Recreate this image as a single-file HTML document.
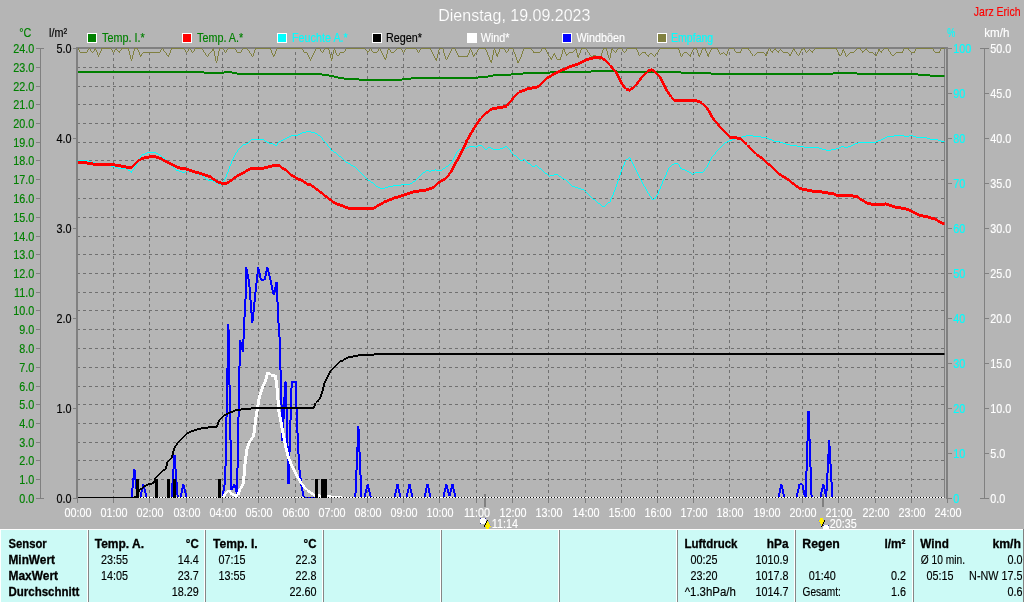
<!DOCTYPE html>
<html><head><meta charset="utf-8"><title>Dienstag, 19.09.2023</title>
<style>
html,body{margin:0;padding:0;background:#b5b5b5;}
body{width:1024px;height:602px;overflow:hidden;position:relative;font-family:"Liberation Sans",sans-serif;}
svg{position:absolute;left:0;top:0;display:block;will-change:transform;}
text{font-family:"Liberation Sans",sans-serif;font-size:12px;stroke-width:0.15px;}
.b{font-weight:bold;font-size:12.5px;stroke-width:0.3px;}
.ce{shape-rendering:crispEdges;}
</style></head><body>
<svg width="1024" height="602" viewBox="0 0 1024 602">
<rect x="0" y="0" width="1024" height="602" fill="#b5b5b5"/>
<text x="514.3" y="21" text-anchor="middle" fill="#fff" stroke="#b5b5b5" stroke-width="0.45" style="font-size:16px">Dienstag, 19.09.2023</text>
<text transform="translate(1020.5 16.0) scale(0.875 1)" fill="#ff0000" stroke="#ff0000" text-anchor="end">Jarz Erich</text>
<text transform="translate(19.3 37.0) scale(0.9 1)" fill="#008000" stroke="#008000">°C</text>
<text transform="translate(49.0 37.0) scale(0.9 1)" fill="#000" stroke="#000">l/m²</text>
<text transform="translate(947.3 37.0) scale(0.75 1)" fill="#00ffff" stroke="#00ffff">%</text>
<text transform="translate(984.3 37.0) scale(0.97 1)" fill="#fff" stroke="#fff">km/h</text>
<rect class="ce" x="87" y="33" width="10" height="10" fill="#fff"/>
<rect class="ce" x="88" y="34" width="8" height="8" fill="#008000"/>
<text transform="translate(102.0 42.0) scale(0.9 1)" fill="#008000" stroke="#008000">Temp. I.*</text>
<rect class="ce" x="182" y="33" width="10" height="10" fill="#fff"/>
<rect class="ce" x="183" y="34" width="8" height="8" fill="#ff0000"/>
<text transform="translate(197.0 42.0) scale(0.9 1)" fill="#008000" stroke="#008000">Temp. A.*</text>
<rect class="ce" x="277" y="33" width="10" height="10" fill="#fff"/>
<rect class="ce" x="278" y="34" width="8" height="8" fill="#00ffff"/>
<text transform="translate(292.0 42.0) scale(0.9 1)" fill="#00ffff" stroke="#00ffff">Feuchte A.*</text>
<rect class="ce" x="372" y="33" width="10" height="10" fill="#fff"/>
<rect class="ce" x="373" y="34" width="8" height="8" fill="#000000"/>
<text transform="translate(386.0 42.0) scale(0.9 1)" fill="#000000" stroke="#000000">Regen*</text>
<rect class="ce" x="467" y="33" width="10" height="10" fill="#fff"/>
<rect class="ce" x="468" y="34" width="8" height="8" fill="#ffffff"/>
<text transform="translate(480.7 42.0) scale(0.9 1)" fill="#ffffff" stroke="#ffffff">Wind*</text>
<rect class="ce" x="562" y="33" width="10" height="10" fill="#fff"/>
<rect class="ce" x="563" y="34" width="8" height="8" fill="#0000ff"/>
<text transform="translate(576.4 42.0) scale(0.9 1)" fill="#ffffff" stroke="#ffffff">Windböen</text>
<rect class="ce" x="657" y="33" width="10" height="10" fill="#fff"/>
<rect class="ce" x="658" y="34" width="8" height="8" fill="#808040"/>
<text transform="translate(671.0 42.0) scale(0.88 1)" fill="#00ffff" stroke="#00ffff">Empfang</text>
<g class="ce" stroke="#707070" stroke-width="1" stroke-dasharray="3 3" fill="none">
<path d="M77 479.5H946"/>
<path d="M77 460.5H946"/>
<path d="M77 442.5H946"/>
<path d="M77 423.5H946"/>
<path d="M77 404.5H946"/>
<path d="M77 386.5H946"/>
<path d="M77 367.5H946"/>
<path d="M77 348.5H946"/>
<path d="M77 329.5H946"/>
<path d="M77 310.5H946"/>
<path d="M77 292.5H946"/>
<path d="M77 273.5H946"/>
<path d="M77 254.5H946"/>
<path d="M77 236.5H946"/>
<path d="M77 217.5H946"/>
<path d="M77 198.5H946"/>
<path d="M77 179.5H946"/>
<path d="M77 160.5H946"/>
<path d="M77 142.5H946"/>
<path d="M77 123.5H946"/>
<path d="M77 104.5H946"/>
<path d="M77 86.5H946"/>
<path d="M77 67.5H946"/>
<path d="M113.5 52V498"/>
<path d="M149.5 52V498"/>
<path d="M186.5 52V498"/>
<path d="M222.5 52V498"/>
<path d="M258.5 52V498"/>
<path d="M295.5 52V498"/>
<path d="M331.5 52V498"/>
<path d="M367.5 52V498"/>
<path d="M403.5 52V498"/>
<path d="M439.5 52V498"/>
<path d="M476.5 52V498"/>
<path d="M512.5 52V498"/>
<path d="M548.5 52V498"/>
<path d="M585.5 52V498"/>
<path d="M621.5 52V498"/>
<path d="M657.5 52V498"/>
<path d="M693.5 52V498"/>
<path d="M729.5 52V498"/>
<path d="M766.5 52V498"/>
<path d="M802.5 52V498"/>
<path d="M838.5 52V498"/>
<path d="M875.5 52V498"/>
<path d="M911.5 52V498"/>
</g>
<g class="ce" fill="#808080">
<rect x="76" y="47" width="2" height="452"/>
<rect x="76" y="47" width="872" height="2"/>
<rect x="946" y="47" width="2" height="452"/>
<rect x="944" y="49" width="1" height="449"/>
<rect x="40" y="48" width="1" height="451"/>
<rect x="36" y="498" width="8" height="1"/>
<rect x="36" y="479" width="4" height="1"/>
<rect x="36" y="460" width="4" height="1"/>
<rect x="36" y="442" width="4" height="1"/>
<rect x="36" y="423" width="4" height="1"/>
<rect x="36" y="404" width="4" height="1"/>
<rect x="36" y="386" width="4" height="1"/>
<rect x="36" y="367" width="4" height="1"/>
<rect x="36" y="348" width="4" height="1"/>
<rect x="36" y="329" width="4" height="1"/>
<rect x="36" y="310" width="4" height="1"/>
<rect x="36" y="292" width="4" height="1"/>
<rect x="36" y="273" width="4" height="1"/>
<rect x="36" y="254" width="4" height="1"/>
<rect x="36" y="236" width="4" height="1"/>
<rect x="36" y="217" width="4" height="1"/>
<rect x="36" y="198" width="4" height="1"/>
<rect x="36" y="179" width="4" height="1"/>
<rect x="36" y="160" width="4" height="1"/>
<rect x="36" y="142" width="4" height="1"/>
<rect x="36" y="123" width="4" height="1"/>
<rect x="36" y="104" width="4" height="1"/>
<rect x="36" y="86" width="4" height="1"/>
<rect x="36" y="67" width="4" height="1"/>
<rect x="36" y="48" width="8" height="1"/>
<rect x="73" y="498" width="3" height="1"/>
<rect x="73" y="408" width="3" height="1"/>
<rect x="73" y="318" width="3" height="1"/>
<rect x="73" y="228" width="3" height="1"/>
<rect x="73" y="138" width="3" height="1"/>
<rect x="73" y="48" width="3" height="1"/>
<rect x="948" y="498" width="4" height="1"/>
<rect x="948" y="453" width="4" height="1"/>
<rect x="948" y="408" width="4" height="1"/>
<rect x="948" y="363" width="4" height="1"/>
<rect x="948" y="318" width="4" height="1"/>
<rect x="948" y="273" width="4" height="1"/>
<rect x="948" y="228" width="4" height="1"/>
<rect x="948" y="183" width="4" height="1"/>
<rect x="948" y="138" width="4" height="1"/>
<rect x="948" y="93" width="4" height="1"/>
<rect x="948" y="48" width="4" height="1"/>
<rect x="984" y="48" width="1" height="451"/>
<rect x="980" y="498" width="9" height="1"/>
<rect x="985" y="453" width="4" height="1"/>
<rect x="985" y="408" width="4" height="1"/>
<rect x="985" y="363" width="4" height="1"/>
<rect x="985" y="318" width="4" height="1"/>
<rect x="985" y="273" width="4" height="1"/>
<rect x="985" y="228" width="4" height="1"/>
<rect x="985" y="183" width="4" height="1"/>
<rect x="985" y="138" width="4" height="1"/>
<rect x="985" y="93" width="4" height="1"/>
<rect x="980" y="48" width="9" height="1"/>
<rect x="77" y="498" width="1" height="5"/>
<rect x="113" y="498" width="1" height="5"/>
<rect x="149" y="498" width="1" height="5"/>
<rect x="186" y="498" width="1" height="5"/>
<rect x="222" y="498" width="1" height="5"/>
<rect x="258" y="498" width="1" height="5"/>
<rect x="295" y="498" width="1" height="5"/>
<rect x="331" y="498" width="1" height="5"/>
<rect x="367" y="498" width="1" height="5"/>
<rect x="403" y="498" width="1" height="5"/>
<rect x="439" y="498" width="1" height="5"/>
<rect x="476" y="498" width="1" height="5"/>
<rect x="512" y="498" width="1" height="5"/>
<rect x="548" y="498" width="1" height="5"/>
<rect x="585" y="498" width="1" height="5"/>
<rect x="621" y="498" width="1" height="5"/>
<rect x="657" y="498" width="1" height="5"/>
<rect x="693" y="498" width="1" height="5"/>
<rect x="729" y="498" width="1" height="5"/>
<rect x="766" y="498" width="1" height="5"/>
<rect x="802" y="498" width="1" height="5"/>
<rect x="838" y="498" width="1" height="5"/>
<rect x="875" y="498" width="1" height="5"/>
<rect x="911" y="498" width="1" height="5"/>
<rect x="947" y="498" width="1" height="5"/>
<rect x="484" y="494" width="2" height="13"/>
<rect x="822" y="494" width="2" height="13"/>
</g>
<g fill="#008000" stroke="#008000" text-anchor="end">
<text transform="translate(34.3 503.0) scale(0.9 1)">0.0</text>
<text transform="translate(34.3 484.0) scale(0.9 1)">1.0</text>
<text transform="translate(34.3 465.0) scale(0.9 1)">2.0</text>
<text transform="translate(34.3 447.0) scale(0.9 1)">3.0</text>
<text transform="translate(34.3 428.0) scale(0.9 1)">4.0</text>
<text transform="translate(34.3 409.0) scale(0.9 1)">5.0</text>
<text transform="translate(34.3 391.0) scale(0.9 1)">6.0</text>
<text transform="translate(34.3 372.0) scale(0.9 1)">7.0</text>
<text transform="translate(34.3 353.0) scale(0.9 1)">8.0</text>
<text transform="translate(34.3 334.0) scale(0.9 1)">9.0</text>
<text transform="translate(34.3 315.0) scale(0.9 1)">10.0</text>
<text transform="translate(34.3 297.0) scale(0.9 1)">11.0</text>
<text transform="translate(34.3 278.0) scale(0.9 1)">12.0</text>
<text transform="translate(34.3 259.0) scale(0.9 1)">13.0</text>
<text transform="translate(34.3 241.0) scale(0.9 1)">14.0</text>
<text transform="translate(34.3 222.0) scale(0.9 1)">15.0</text>
<text transform="translate(34.3 203.0) scale(0.9 1)">16.0</text>
<text transform="translate(34.3 184.0) scale(0.9 1)">17.0</text>
<text transform="translate(34.3 165.0) scale(0.9 1)">18.0</text>
<text transform="translate(34.3 147.0) scale(0.9 1)">19.0</text>
<text transform="translate(34.3 128.0) scale(0.9 1)">20.0</text>
<text transform="translate(34.3 109.0) scale(0.9 1)">21.0</text>
<text transform="translate(34.3 91.0) scale(0.9 1)">22.0</text>
<text transform="translate(34.3 72.0) scale(0.9 1)">23.0</text>
<text transform="translate(34.3 53.0) scale(0.9 1)">24.0</text>
</g>
<g fill="#000" stroke="#000" text-anchor="end">
<text transform="translate(71.5 503.0) scale(0.9 1)">0.0</text>
<text transform="translate(71.5 413.0) scale(0.9 1)">1.0</text>
<text transform="translate(71.5 323.0) scale(0.9 1)">2.0</text>
<text transform="translate(71.5 233.0) scale(0.9 1)">3.0</text>
<text transform="translate(71.5 143.0) scale(0.9 1)">4.0</text>
<text transform="translate(71.5 53.0) scale(0.9 1)">5.0</text>
</g>
<g fill="#00ffff" stroke="#00ffff">
<text transform="translate(953.3 503.0) scale(0.9 1)">0</text>
<text transform="translate(953.3 458.0) scale(0.9 1)">10</text>
<text transform="translate(953.3 413.0) scale(0.9 1)">20</text>
<text transform="translate(953.3 368.0) scale(0.9 1)">30</text>
<text transform="translate(953.3 323.0) scale(0.9 1)">40</text>
<text transform="translate(953.3 278.0) scale(0.9 1)">50</text>
<text transform="translate(953.3 233.0) scale(0.9 1)">60</text>
<text transform="translate(953.3 188.0) scale(0.9 1)">70</text>
<text transform="translate(953.3 143.0) scale(0.9 1)">80</text>
<text transform="translate(953.3 98.0) scale(0.9 1)">90</text>
<text transform="translate(953.3 53.0) scale(0.9 1)">100</text>
</g>
<g fill="#fff" stroke="#fff">
<text transform="translate(990.3 503.0) scale(0.9 1)">0.0</text>
<text transform="translate(990.3 458.0) scale(0.9 1)">5.0</text>
<text transform="translate(990.3 413.0) scale(0.9 1)">10.0</text>
<text transform="translate(990.3 368.0) scale(0.9 1)">15.0</text>
<text transform="translate(990.3 323.0) scale(0.9 1)">20.0</text>
<text transform="translate(990.3 278.0) scale(0.9 1)">25.0</text>
<text transform="translate(990.3 233.0) scale(0.9 1)">30.0</text>
<text transform="translate(990.3 188.0) scale(0.9 1)">35.0</text>
<text transform="translate(990.3 143.0) scale(0.9 1)">40.0</text>
<text transform="translate(990.3 98.0) scale(0.9 1)">45.0</text>
<text transform="translate(990.3 53.0) scale(0.9 1)">50.0</text>
</g>
<g fill="#fff" stroke="#fff" text-anchor="middle">
<text transform="translate(78.0 517.0) scale(0.9 1)">00:00</text>
<text transform="translate(114.0 517.0) scale(0.9 1)">01:00</text>
<text transform="translate(150.0 517.0) scale(0.9 1)">02:00</text>
<text transform="translate(187.0 517.0) scale(0.9 1)">03:00</text>
<text transform="translate(223.0 517.0) scale(0.9 1)">04:00</text>
<text transform="translate(259.0 517.0) scale(0.9 1)">05:00</text>
<text transform="translate(296.0 517.0) scale(0.9 1)">06:00</text>
<text transform="translate(332.0 517.0) scale(0.9 1)">07:00</text>
<text transform="translate(368.0 517.0) scale(0.9 1)">08:00</text>
<text transform="translate(404.0 517.0) scale(0.9 1)">09:00</text>
<text transform="translate(440.0 517.0) scale(0.9 1)">10:00</text>
<text transform="translate(477.0 517.0) scale(0.9 1)">11:00</text>
<text transform="translate(513.0 517.0) scale(0.9 1)">12:00</text>
<text transform="translate(549.0 517.0) scale(0.9 1)">13:00</text>
<text transform="translate(586.0 517.0) scale(0.9 1)">14:00</text>
<text transform="translate(622.0 517.0) scale(0.9 1)">15:00</text>
<text transform="translate(658.0 517.0) scale(0.9 1)">16:00</text>
<text transform="translate(694.0 517.0) scale(0.9 1)">17:00</text>
<text transform="translate(730.0 517.0) scale(0.9 1)">18:00</text>
<text transform="translate(767.0 517.0) scale(0.9 1)">19:00</text>
<text transform="translate(803.0 517.0) scale(0.9 1)">20:00</text>
<text transform="translate(839.0 517.0) scale(0.9 1)">21:00</text>
<text transform="translate(876.0 517.0) scale(0.9 1)">22:00</text>
<text transform="translate(912.0 517.0) scale(0.9 1)">23:00</text>
<text transform="translate(948.0 517.0) scale(0.9 1)">24:00</text>
</g>
<text transform="translate(491.7 528.0) scale(0.9 1)" fill="#fff" stroke="#fff">11:14</text>
<text transform="translate(829.7 528.0) scale(0.9 1)" fill="#fff" stroke="#fff">20:35</text>
<defs><clipPath id="cp"><rect x="78" y="48" width="866.5" height="450"/></clipPath></defs>
<g clip-path="url(#cp)" class="ce" fill="none" stroke-linejoin="round">
<path d="M78 48.5h1M89 48.5h1M95 48.5h1M101 48.5h10M116 48.5h1M121 48.5h8M134 48.5h4M162 48.5h1M171 48.5h13M189 48.5h1M195 48.5h7M213 48.5h1M219 48.5h4M228 48.5h7M243 48.5h4M255 48.5h16M277 48.5h25M316 48.5h4M325 48.5h4M334 48.5h1M346 48.5h19M370 48.5h1M379 48.5h1M388 48.5h1M397 48.5h4M406 48.5h10M421 48.5h10M439 48.5h4M452 48.5h3M470 48.5h1M479 48.5h7M494 48.5h1M500 48.5h4M509 48.5h4M524 48.5h7M542 48.5h4M563 48.5h1M575 48.5h1M581 48.5h5M603 48.5h4M612 48.5h1M618 48.5h4M627 48.5h10M660 48.5h19M693 48.5h4M702 48.5h4M711 48.5h7M729 48.5h5M742 48.5h7M769 48.5h1M775 48.5h1M793 48.5h1M803 48.5h2M815 48.5h22M857 48.5h4M866 48.5h1M884 48.5h4M904 48.5h5M916 48.5h17M941 48.5h4M78 49.5h1M88 49.5h1M90 49.5h1M94 49.5h2M101 49.5h1M111 49.5h1M115 49.5h2M121 49.5h1M128 49.5h1M134 49.5h1M137 49.5h1M161 49.5h1M163 49.5h1M171 49.5h1M184 49.5h1M188 49.5h1M190 49.5h1M194 49.5h1M202 49.5h1M212 49.5h2M219 49.5h1M223 49.5h1M227 49.5h1M235 49.5h1M242 49.5h1M247 49.5h1M255 49.5h1M270 49.5h1M276 49.5h1M302 49.5h1M315 49.5h1M320 49.5h1M324 49.5h1M328 49.5h1M334 49.5h1M345 49.5h1M365 49.5h1M369 49.5h1M371 49.5h1M378 49.5h1M380 49.5h1M388 49.5h2M396 49.5h1M401 49.5h1M405 49.5h1M416 49.5h1M420 49.5h1M430 49.5h1M439 49.5h1M443 49.5h1M451 49.5h1M455 49.5h1M470 49.5h1M478 49.5h1M485 49.5h1M494 49.5h1M499 49.5h1M504 49.5h1M508 49.5h1M513 49.5h1M523 49.5h1M531 49.5h1M541 49.5h1M545 49.5h1M563 49.5h2M575 49.5h2M581 49.5h1M586 49.5h1M603 49.5h1M606 49.5h1M611 49.5h2M617 49.5h1M622 49.5h1M626 49.5h1M636 49.5h1M659 49.5h1M678 49.5h1M693 49.5h1M696 49.5h1M702 49.5h1M705 49.5h1M711 49.5h1M717 49.5h1M728 49.5h1M734 49.5h1M741 49.5h1M748 49.5h1M768 49.5h1M770 49.5h1M774 49.5h2M780 49.5h1M793 49.5h2M801 49.5h2M804 49.5h1M809 49.5h1M814 49.5h1M836 49.5h1M843 49.5h1M856 49.5h1M860 49.5h1M865 49.5h2M878 49.5h2M883 49.5h1M888 49.5h1M903 49.5h1M908 49.5h1M915 49.5h1M933 49.5h1M940 49.5h1M79 50.5h1M87 50.5h1M90 50.5h1M94 50.5h1M96 50.5h1M101 50.5h1M112 50.5h1M114 50.5h1M117 50.5h1M120 50.5h1M128 50.5h1M134 50.5h1M138 50.5h1M160 50.5h1M163 50.5h1M170 50.5h1M185 50.5h1M188 50.5h1M191 50.5h1M194 50.5h1M203 50.5h1M212 50.5h2M219 50.5h1M224 50.5h1M226 50.5h1M236 50.5h1M241 50.5h1M248 50.5h1M254 50.5h1M271 50.5h1M276 50.5h1M303 50.5h1M315 50.5h1M320 50.5h1M323 50.5h1M329 50.5h1M333 50.5h1M335 50.5h1M345 50.5h1M366 50.5h1M369 50.5h1M371 50.5h1M378 50.5h1M380 50.5h1M387 50.5h1M390 50.5h1M395 50.5h1M402 50.5h1M404 50.5h1M417 50.5h1M419 50.5h1M431 50.5h1M438 50.5h1M443 50.5h1M451 50.5h1M455 50.5h1M469 50.5h1M471 50.5h1M477 50.5h1M486 50.5h1M493 50.5h1M495 50.5h1M499 50.5h1M505 50.5h1M508 50.5h1M513 50.5h1M523 50.5h1M532 50.5h1M541 50.5h1M546 50.5h1M562 50.5h1M564 50.5h1M574 50.5h1M576 50.5h1M580 50.5h1M587 50.5h1M602 50.5h1M606 50.5h1M611 50.5h1M613 50.5h1M616 50.5h1M622 50.5h1M626 50.5h1M637 50.5h1M658 50.5h1M679 50.5h1M692 50.5h1M697 50.5h1M701 50.5h1M705 50.5h1M710 50.5h1M718 50.5h1M728 50.5h1M734 50.5h1M741 50.5h1M749 50.5h1M768 50.5h1M770 50.5h1M773 50.5h1M776 50.5h1M779 50.5h1M781 50.5h1M792 50.5h1M794 50.5h1M801 50.5h1M805 50.5h1M808 50.5h1M810 50.5h1M813 50.5h1M837 50.5h1M842 50.5h2M855 50.5h1M861 50.5h1M864 50.5h1M867 50.5h1M878 50.5h2M882 50.5h1M888 50.5h1M903 50.5h1M909 50.5h1M915 50.5h1M933 50.5h1M940 50.5h1M79 51.5h1M87 51.5h1M91 51.5h1M93 51.5h1M96 51.5h1M100 51.5h1M112 51.5h1M114 51.5h1M118 51.5h2M129 51.5h1M133 51.5h1M138 51.5h1M160 51.5h1M164 51.5h1M170 51.5h1M185 51.5h1M187 51.5h1M191 51.5h1M193 51.5h1M203 51.5h1M211 51.5h1M214 51.5h1M218 51.5h1M224 51.5h1M226 51.5h1M236 51.5h1M241 51.5h1M249 51.5h1M254 51.5h1M271 51.5h1M275 51.5h1M303 51.5h1M314 51.5h1M321 51.5h1M323 51.5h1M329 51.5h1M333 51.5h1M335 51.5h1M344 51.5h1M367 51.5h2M372 51.5h1M377 51.5h1M381 51.5h1M387 51.5h1M390 51.5h1M394 51.5h1M402 51.5h1M404 51.5h1M417 51.5h1M419 51.5h1M431 51.5h1M438 51.5h1M443 51.5h1M450 51.5h1M456 51.5h1M469 51.5h1M471 51.5h1M477 51.5h1M486 51.5h1M493 51.5h1M495 51.5h1M499 51.5h1M505 51.5h1M507 51.5h1M513 51.5h1M522 51.5h1M533 51.5h1M540 51.5h1M546 51.5h1M562 51.5h1M564 51.5h1M573 51.5h1M576 51.5h1M580 51.5h1M587 51.5h1M602 51.5h1M607 51.5h1M611 51.5h1M614 51.5h1M616 51.5h1M623 51.5h1M625 51.5h1M637 51.5h1M658 51.5h1M679 51.5h1M692 51.5h1M697 51.5h1M701 51.5h1M706 51.5h1M710 51.5h1M718 51.5h1M727 51.5h1M735 51.5h1M740 51.5h1M750 51.5h1M767 51.5h1M771 51.5h2M777 51.5h2M782 51.5h1M792 51.5h1M795 51.5h1M800 51.5h1M805 51.5h1M807 51.5h1M811 51.5h2M837 51.5h1M842 51.5h1M844 51.5h1M854 51.5h1M862 51.5h2M868 51.5h1M878 51.5h1M880 51.5h2M889 51.5h1M902 51.5h1M910 51.5h1M914 51.5h1M934 51.5h1M939 51.5h1M80 52.5h7M92 52.5h1M97 52.5h1M100 52.5h1M113 52.5h1M119 52.5h1M129 52.5h1M133 52.5h1M139 52.5h1M143 52.5h17M165 52.5h1M170 52.5h1M186 52.5h1M192 52.5h1M204 52.5h1M210 52.5h1M214 52.5h1M218 52.5h1M225 52.5h1M237 52.5h4M249 52.5h1M254 52.5h1M271 52.5h1M275 52.5h1M304 52.5h3M314 52.5h1M322 52.5h1M329 52.5h1M333 52.5h1M335 52.5h1M340 52.5h4M367 52.5h1M373 52.5h4M381 52.5h1M387 52.5h1M391 52.5h3M403 52.5h1M418 52.5h1M432 52.5h1M438 52.5h1M443 52.5h1M450 52.5h1M456 52.5h1M469 52.5h1M472 52.5h1M476 52.5h1M487 52.5h1M493 52.5h1M495 52.5h1M498 52.5h1M506 52.5h1M514 52.5h1M522 52.5h1M533 52.5h7M547 52.5h1M562 52.5h1M565 52.5h1M569 52.5h4M576 52.5h1M580 52.5h1M588 52.5h1M602 52.5h1M607 52.5h1M611 52.5h1M615 52.5h1M624 52.5h1M638 52.5h1M642 52.5h4M657 52.5h1M679 52.5h1M684 52.5h3M691 52.5h1M697 52.5h1M701 52.5h1M706 52.5h1M709 52.5h1M719 52.5h1M723 52.5h1M727 52.5h1M736 52.5h5M750 52.5h1M757 52.5h7M767 52.5h1M772 52.5h1M778 52.5h1M783 52.5h5M791 52.5h1M796 52.5h1M800 52.5h1M806 52.5h1M812 52.5h1M838 52.5h1M842 52.5h1M844 52.5h1M850 52.5h4M862 52.5h1M869 52.5h4M877 52.5h1M881 52.5h1M890 52.5h1M896 52.5h7M911 52.5h4M935 52.5h5M97 53.5h1M99 53.5h1M129 53.5h1M133 53.5h1M139 53.5h1M142 53.5h1M166 53.5h1M169 53.5h1M205 53.5h1M209 53.5h1M214 53.5h1M218 53.5h1M250 53.5h1M253 53.5h1M272 53.5h1M275 53.5h1M307 53.5h1M313 53.5h1M329 53.5h1M333 53.5h1M336 53.5h1M339 53.5h1M382 53.5h1M387 53.5h1M432 53.5h1M438 53.5h1M444 53.5h1M449 53.5h1M457 53.5h1M468 53.5h1M472 53.5h1M475 53.5h1M487 53.5h1M493 53.5h1M496 53.5h1M498 53.5h1M514 53.5h1M522 53.5h1M547 53.5h1M554 53.5h1M562 53.5h1M565 53.5h1M568 53.5h1M577 53.5h1M579 53.5h1M589 53.5h1M601 53.5h1M607 53.5h1M610 53.5h1M638 53.5h1M641 53.5h1M645 53.5h1M650 53.5h2M656 53.5h1M680 53.5h1M683 53.5h1M687 53.5h1M691 53.5h1M698 53.5h1M700 53.5h1M707 53.5h1M709 53.5h1M719 53.5h1M721 53.5h2M724 53.5h1M727 53.5h1M751 53.5h1M756 53.5h1M764 53.5h1M767 53.5h1M788 53.5h1M791 53.5h1M796 53.5h1M799 53.5h1M838 53.5h1M841 53.5h1M845 53.5h1M849 53.5h1M873 53.5h1M877 53.5h1M890 53.5h1M895 53.5h1M97 54.5h1M99 54.5h1M129 54.5h1M133 54.5h1M139 54.5h1M141 54.5h1M166 54.5h1M169 54.5h1M205 54.5h1M208 54.5h1M214 54.5h1M218 54.5h1M251 54.5h1M253 54.5h1M272 54.5h1M274 54.5h1M307 54.5h1M313 54.5h1M330 54.5h1M332 54.5h1M336 54.5h1M339 54.5h1M382 54.5h1M386 54.5h1M433 54.5h1M437 54.5h1M444 54.5h1M449 54.5h1M457 54.5h1M468 54.5h1M472 54.5h1M474 54.5h1M487 54.5h1M493 54.5h1M496 54.5h2M515 54.5h1M521 54.5h1M548 54.5h1M553 54.5h2M561 54.5h1M566 54.5h2M577 54.5h1M579 54.5h1M589 54.5h1M601 54.5h1M607 54.5h1M610 54.5h1M638 54.5h1M640 54.5h1M646 54.5h1M649 54.5h1M652 54.5h1M655 54.5h1M680 54.5h1M682 54.5h1M688 54.5h1M690 54.5h1M698 54.5h1M700 54.5h1M707 54.5h2M720 54.5h1M725 54.5h2M752 54.5h1M755 54.5h1M765 54.5h2M789 54.5h2M797 54.5h1M799 54.5h1M839 54.5h1M841 54.5h1M845 54.5h1M848 54.5h1M874 54.5h1M876 54.5h1M891 54.5h1M894 54.5h1M98 55.5h1M130 55.5h1M132 55.5h1M140 55.5h2M167 55.5h2M206 55.5h1M208 55.5h1M214 55.5h1M218 55.5h1M251 55.5h1M253 55.5h1M273 55.5h2M308 55.5h1M312 55.5h1M330 55.5h1M332 55.5h1M337 55.5h2M383 55.5h1M386 55.5h1M433 55.5h1M437 55.5h1M444 55.5h1M448 55.5h1M458 55.5h1M467 55.5h1M473 55.5h2M488 55.5h1M492 55.5h1M496 55.5h2M515 55.5h1M521 55.5h1M548 55.5h1M553 55.5h1M555 55.5h1M561 55.5h1M566 55.5h1M577 55.5h2M590 55.5h1M593 55.5h3M601 55.5h1M608 55.5h1M610 55.5h1M639 55.5h1M647 55.5h2M653 55.5h1M655 55.5h1M680 55.5h1M682 55.5h1M689 55.5h2M698 55.5h2M707 55.5h2M726 55.5h1M752 55.5h1M754 55.5h1M765 55.5h2M789 55.5h2M798 55.5h1M839 55.5h2M845 55.5h1M847 55.5h1M875 55.5h2M892 55.5h2M98 56.5h1M130 56.5h1M132 56.5h1M140 56.5h1M168 56.5h1M207 56.5h1M215 56.5h1M217 56.5h1M252 56.5h1M273 56.5h1M308 56.5h1M312 56.5h1M330 56.5h1M332 56.5h1M383 56.5h1M386 56.5h1M434 56.5h1M437 56.5h1M445 56.5h1M448 56.5h1M458 56.5h10M473 56.5h1M488 56.5h1M492 56.5h1M497 56.5h1M515 56.5h1M521 56.5h1M549 56.5h1M552 56.5h1M555 56.5h1M561 56.5h1M577 56.5h2M591 56.5h2M596 56.5h2M601 56.5h1M608 56.5h1M610 56.5h1M648 56.5h1M654 56.5h1M681 56.5h1M690 56.5h1M699 56.5h1M708 56.5h1M846 56.5h1M130 57.5h1M132 57.5h1M215 57.5h1M217 57.5h1M309 57.5h1M311 57.5h1M330 57.5h1M332 57.5h1M384 57.5h1M386 57.5h1M434 57.5h1M437 57.5h1M445 57.5h1M447 57.5h1M489 57.5h1M492 57.5h1M516 57.5h1M520 57.5h1M550 57.5h1M552 57.5h1M556 57.5h1M560 57.5h1M578 57.5h1M598 57.5h1M600 57.5h1M608 57.5h1M610 57.5h1M130 58.5h1M132 58.5h1M215 58.5h1M217 58.5h1M309 58.5h1M311 58.5h1M331 58.5h2M384 58.5h2M435 58.5h2M445 58.5h1M447 58.5h1M489 58.5h1M492 58.5h1M516 58.5h1M520 58.5h1M550 58.5h2M556 58.5h1M560 58.5h1M598 58.5h1M600 58.5h1M609 58.5h1M131 59.5h1M215 59.5h1M217 59.5h1M310 59.5h1M331 59.5h1M385 59.5h1M435 59.5h2M446 59.5h1M489 59.5h1M492 59.5h1M516 59.5h1M519 59.5h1M551 59.5h1M557 59.5h4M599 59.5h2M609 59.5h1M131 60.5h1M215 60.5h1M217 60.5h1M310 60.5h1M331 60.5h1M436 60.5h1M490 60.5h2M517 60.5h1M519 60.5h1M216 61.5h1M490 61.5h2M517 61.5h2M216 62.5h1M491 62.5h1M517 62.5h2" stroke="#808040" stroke-width="1"/>
<path d="M306 131.5h5M302 132.5h4M311 132.5h4M300 133.5h2M315 133.5h2M298 134.5h2M317 134.5h1M291 135.5h7M318 135.5h2M746 135.5h7M894 135.5h10M909 135.5h4M289 136.5h2M320 136.5h1M742 136.5h4M753 136.5h8M887 136.5h7M904 136.5h5M913 136.5h3M287 137.5h2M321 137.5h1M739 137.5h3M761 137.5h6M885 137.5h2M916 137.5h11M285 138.5h2M322 138.5h1M735 138.5h4M767 138.5h2M883 138.5h2M927 138.5h3M251 139.5h13M283 139.5h2M322 139.5h1M732 139.5h3M769 139.5h3M881 139.5h2M930 139.5h8M250 140.5h1M264 140.5h1M281 140.5h2M323 140.5h1M729 140.5h3M772 140.5h2M878 140.5h3M938 140.5h3M249 141.5h1M265 141.5h2M279 141.5h2M324 141.5h1M727 141.5h2M774 141.5h6M876 141.5h2M941 141.5h4M248 142.5h1M267 142.5h2M278 142.5h1M325 142.5h1M725 142.5h2M780 142.5h3M858 142.5h18M246 143.5h2M269 143.5h4M277 143.5h1M326 143.5h1M724 143.5h1M783 143.5h3M855 143.5h3M243 144.5h3M273 144.5h2M277 144.5h1M327 144.5h1M723 144.5h1M786 144.5h4M853 144.5h2M242 145.5h1M275 145.5h2M327 145.5h1M478 145.5h4M722 145.5h1M790 145.5h7M851 145.5h2M241 146.5h1M328 146.5h1M469 146.5h6M476 146.5h2M482 146.5h1M505 146.5h2M721 146.5h1M797 146.5h7M841 146.5h3M848 146.5h3M240 147.5h1M329 147.5h1M467 147.5h2M475 147.5h1M483 147.5h1M488 147.5h3M503 147.5h2M507 147.5h1M720 147.5h1M804 147.5h15M839 147.5h2M844 147.5h4M239 148.5h1M330 148.5h1M461 148.5h6M484 148.5h1M487 148.5h1M491 148.5h2M500 148.5h3M508 148.5h1M719 148.5h1M819 148.5h3M836 148.5h3M238 149.5h1M330 149.5h1M459 149.5h2M485 149.5h2M493 149.5h7M509 149.5h1M718 149.5h1M822 149.5h4M831 149.5h5M237 150.5h1M331 150.5h2M458 150.5h1M510 150.5h1M717 150.5h1M826 150.5h5M237 151.5h1M333 151.5h1M457 151.5h1M510 151.5h1M716 151.5h1M147 152.5h9M236 152.5h1M334 152.5h2M456 152.5h1M511 152.5h1M715 152.5h1M145 153.5h2M156 153.5h2M235 153.5h1M336 153.5h1M456 153.5h1M512 153.5h1M715 153.5h1M142 154.5h3M158 154.5h2M235 154.5h1M337 154.5h1M455 154.5h1M513 154.5h1M714 154.5h1M141 155.5h1M160 155.5h1M234 155.5h1M338 155.5h1M455 155.5h1M514 155.5h2M713 155.5h1M140 156.5h1M161 156.5h1M234 156.5h1M339 156.5h2M454 156.5h1M516 156.5h1M712 156.5h1M140 157.5h1M162 157.5h2M233 157.5h1M341 157.5h1M454 157.5h1M517 157.5h1M629 157.5h1M711 157.5h1M139 158.5h1M164 158.5h1M233 158.5h1M342 158.5h1M453 158.5h1M518 158.5h1M628 158.5h1M630 158.5h1M711 158.5h1M139 159.5h1M165 159.5h1M232 159.5h1M343 159.5h1M453 159.5h1M519 159.5h1M523 159.5h2M626 159.5h2M630 159.5h1M710 159.5h1M78 160.5h10M138 160.5h1M166 160.5h1M232 160.5h1M344 160.5h1M452 160.5h1M520 160.5h3M525 160.5h1M631 160.5h1M710 160.5h1M88 161.5h3M138 161.5h1M167 161.5h1M231 161.5h1M345 161.5h1M452 161.5h1M526 161.5h1M625 161.5h1M631 161.5h1M709 161.5h1M91 162.5h4M137 162.5h1M168 162.5h2M231 162.5h1M346 162.5h2M451 162.5h1M527 162.5h1M624 162.5h1M632 162.5h1M709 162.5h1M95 163.5h5M137 163.5h1M170 163.5h1M231 163.5h1M348 163.5h2M450 163.5h1M528 163.5h2M624 163.5h1M632 163.5h1M674 163.5h4M708 163.5h1M100 164.5h6M136 164.5h1M230 164.5h1M350 164.5h1M449 164.5h1M530 164.5h1M624 164.5h1M633 164.5h1M672 164.5h2M678 164.5h1M708 164.5h1M106 165.5h5M136 165.5h1M171 165.5h1M230 165.5h1M351 165.5h2M448 165.5h1M531 165.5h1M535 165.5h2M623 165.5h1M633 165.5h1M671 165.5h1M679 165.5h1M707 165.5h1M111 166.5h4M135 166.5h1M172 166.5h1M229 166.5h1M353 166.5h2M446 166.5h2M532 166.5h3M537 166.5h1M623 166.5h1M634 166.5h1M670 166.5h1M679 166.5h1M707 166.5h1M115 167.5h3M134 167.5h1M173 167.5h1M229 167.5h1M355 167.5h1M445 167.5h1M538 167.5h1M622 167.5h1M634 167.5h1M669 167.5h1M680 167.5h1M706 167.5h1M118 168.5h9M134 168.5h1M174 168.5h1M229 168.5h1M356 168.5h1M443 168.5h2M539 168.5h2M622 168.5h1M635 168.5h1M668 168.5h1M680 168.5h2M705 168.5h1M127 169.5h1M133 169.5h1M175 169.5h1M228 169.5h1M357 169.5h1M435 169.5h1M442 169.5h1M541 169.5h1M622 169.5h1M635 169.5h1M668 169.5h1M682 169.5h3M704 169.5h1M128 170.5h2M132 170.5h1M176 170.5h3M186 170.5h2M228 170.5h1M358 170.5h1M426 170.5h3M431 170.5h4M436 170.5h6M542 170.5h1M621 170.5h1M636 170.5h1M667 170.5h1M685 170.5h2M704 170.5h1M130 171.5h2M179 171.5h3M185 171.5h1M188 171.5h4M228 171.5h1M359 171.5h1M425 171.5h1M429 171.5h2M543 171.5h1M621 171.5h1M636 171.5h1M667 171.5h1M687 171.5h2M703 171.5h1M131 172.5h1M182 172.5h3M192 172.5h3M227 172.5h1M360 172.5h1M423 172.5h2M544 172.5h1M620 172.5h1M637 172.5h1M666 172.5h1M689 172.5h2M695 172.5h8M195 173.5h3M227 173.5h1M361 173.5h1M422 173.5h1M545 173.5h2M620 173.5h1M637 173.5h1M666 173.5h1M691 173.5h1M693 173.5h2M198 174.5h3M226 174.5h1M362 174.5h1M421 174.5h1M547 174.5h1M554 174.5h4M620 174.5h1M638 174.5h1M666 174.5h1M692 174.5h1M201 175.5h2M226 175.5h1M363 175.5h1M420 175.5h1M548 175.5h1M550 175.5h4M558 175.5h1M619 175.5h1M638 175.5h1M665 175.5h1M203 176.5h1M226 176.5h1M364 176.5h1M419 176.5h1M549 176.5h1M559 176.5h2M619 176.5h1M639 176.5h1M665 176.5h1M204 177.5h1M225 177.5h1M365 177.5h1M418 177.5h1M561 177.5h1M619 177.5h1M639 177.5h1M664 177.5h1M205 178.5h1M225 178.5h1M366 178.5h1M417 178.5h1M562 178.5h2M618 178.5h1M640 178.5h1M664 178.5h1M206 179.5h2M224 179.5h1M367 179.5h1M416 179.5h1M564 179.5h2M618 179.5h1M640 179.5h1M663 179.5h1M208 180.5h5M224 180.5h1M368 180.5h2M415 180.5h1M566 180.5h1M618 180.5h1M641 180.5h1M663 180.5h1M213 181.5h2M223 181.5h1M370 181.5h1M413 181.5h2M567 181.5h1M617 181.5h1M641 181.5h1M662 181.5h1M215 182.5h2M222 182.5h2M371 182.5h2M412 182.5h1M568 182.5h1M617 182.5h1M642 182.5h1M662 182.5h1M217 183.5h2M221 183.5h1M373 183.5h1M410 183.5h2M569 183.5h1M617 183.5h1M642 183.5h1M662 183.5h1M219 184.5h2M374 184.5h1M401 184.5h9M570 184.5h1M616 184.5h1M643 184.5h1M661 184.5h1M375 185.5h1M393 185.5h8M571 185.5h1M616 185.5h1M643 185.5h1M661 185.5h1M376 186.5h2M388 186.5h5M572 186.5h3M616 186.5h1M644 186.5h1M660 186.5h1M378 187.5h2M385 187.5h3M575 187.5h3M615 187.5h1M645 187.5h1M660 187.5h1M380 188.5h5M578 188.5h3M615 188.5h1M645 188.5h1M660 188.5h1M581 189.5h3M615 189.5h1M646 189.5h1M659 189.5h1M584 190.5h1M614 190.5h1M646 190.5h1M659 190.5h1M585 191.5h1M614 191.5h1M647 191.5h1M658 191.5h1M586 192.5h1M613 192.5h1M647 192.5h1M658 192.5h1M587 193.5h1M613 193.5h1M648 193.5h1M658 193.5h1M588 194.5h1M613 194.5h1M649 194.5h1M657 194.5h1M589 195.5h1M612 195.5h1M649 195.5h1M656 195.5h1M590 196.5h1M612 196.5h1M650 196.5h1M656 196.5h1M591 197.5h1M611 197.5h1M651 197.5h1M655 197.5h1M592 198.5h1M611 198.5h1M651 198.5h1M654 198.5h2M593 199.5h2M610 199.5h1M652 199.5h2M595 200.5h1M610 200.5h1M596 201.5h1M610 201.5h1M597 202.5h1M608 202.5h2M598 203.5h2M607 203.5h1M600 204.5h1M606 204.5h1M601 205.5h1M605 205.5h1M602 206.5h3" stroke="#00ffff" stroke-width="1"/>
<path d="M591 70.5h26M78 71.5h126M224 71.5h8M550 71.5h131M78 72.5h159M523 72.5h68M617 72.5h94M833 72.5h24M204 73.5h20M232 73.5h90M511 73.5h39M681 73.5h237M237 74.5h92M493 74.5h30M711 74.5h122M857 74.5h73M322 75.5h12M488 75.5h23M918 75.5h27M329 76.5h9M478 76.5h15M930 76.5h15M334 77.5h10M411 77.5h77M338 78.5h21M402 78.5h76M344 79.5h67M359 80.5h43" stroke="#008000" stroke-width="1"/>
<path d="M593 56.5h9M589 57.5h14M586 58.5h19M584 59.5h9M602 59.5h4M582 60.5h7M603 60.5h4M580 61.5h6M605 61.5h3M578 62.5h6M606 62.5h3M575 63.5h7M607 63.5h3M572 64.5h8M608 64.5h2M569 65.5h9M609 65.5h3M567 66.5h8M610 66.5h3M565 67.5h7M610 67.5h3M562 68.5h7M611 68.5h3M651 68.5h1M560 69.5h7M612 69.5h3M648 69.5h6M558 70.5h7M613 70.5h3M647 70.5h8M556 71.5h6M614 71.5h3M647 71.5h4M652 71.5h4M554 72.5h6M615 72.5h3M645 72.5h3M654 72.5h3M552 73.5h6M615 73.5h3M644 73.5h3M655 73.5h3M551 74.5h5M616 74.5h3M643 74.5h3M656 74.5h3M549 75.5h5M616 75.5h3M642 75.5h3M657 75.5h3M547 76.5h5M617 76.5h3M641 76.5h3M658 76.5h3M546 77.5h5M617 77.5h3M640 77.5h3M659 77.5h3M545 78.5h4M618 78.5h3M639 78.5h3M659 78.5h3M544 79.5h3M618 79.5h3M639 79.5h3M660 79.5h3M543 80.5h3M619 80.5h3M638 80.5h3M660 80.5h3M542 81.5h3M619 81.5h3M637 81.5h3M661 81.5h3M541 82.5h3M620 82.5h3M636 82.5h3M661 82.5h3M540 83.5h3M620 83.5h3M636 83.5h3M662 83.5h3M539 84.5h3M621 84.5h3M635 84.5h3M662 84.5h3M537 85.5h4M622 85.5h3M634 85.5h3M663 85.5h3M532 86.5h8M622 86.5h3M633 86.5h2M663 86.5h3M527 87.5h12M623 87.5h3M631 87.5h4M664 87.5h3M525 88.5h12M624 88.5h5M630 88.5h4M664 88.5h3M522 89.5h10M626 89.5h7M665 89.5h3M519 90.5h8M626 90.5h5M665 90.5h3M519 91.5h6M629 91.5h1M666 91.5h3M517 92.5h5M667 92.5h3M516 93.5h3M667 93.5h3M515 94.5h3M668 94.5h3M514 95.5h3M669 95.5h3M513 96.5h3M669 96.5h3M512 97.5h3M671 97.5h2M511 98.5h3M671 98.5h3M511 99.5h3M672 99.5h25M510 100.5h3M673 100.5h27M509 101.5h3M674 101.5h28M508 102.5h3M697 102.5h5M507 103.5h3M700 103.5h4M506 104.5h3M702 104.5h3M503 105.5h6M703 105.5h3M497 106.5h10M704 106.5h3M492 107.5h15M705 107.5h3M490 108.5h13M706 108.5h3M489 109.5h8M706 109.5h3M488 110.5h4M707 110.5h3M486 111.5h4M708 111.5h3M485 112.5h4M708 112.5h3M484 113.5h4M709 113.5h3M483 114.5h3M709 114.5h3M482 115.5h3M710 115.5h3M481 116.5h3M710 116.5h3M481 117.5h2M711 117.5h3M479 118.5h3M712 118.5h3M478 119.5h3M712 119.5h3M478 120.5h3M713 120.5h3M477 121.5h3M714 121.5h3M476 122.5h3M715 122.5h3M476 123.5h3M716 123.5h3M475 124.5h3M717 124.5h3M474 125.5h3M717 125.5h3M474 126.5h3M718 126.5h3M473 127.5h3M719 127.5h3M472 128.5h3M720 128.5h3M472 129.5h3M721 129.5h3M471 130.5h3M722 130.5h3M471 131.5h3M723 131.5h3M470 132.5h3M724 132.5h3M469 133.5h3M725 133.5h3M469 134.5h3M726 134.5h3M468 135.5h3M727 135.5h3M468 136.5h3M728 136.5h9M467 137.5h3M729 137.5h12M467 138.5h3M730 138.5h12M466 139.5h3M737 139.5h6M465 140.5h3M741 140.5h3M465 141.5h3M742 141.5h3M465 142.5h3M743 142.5h4M464 143.5h3M744 143.5h3M464 144.5h3M745 144.5h2M463 145.5h3M747 145.5h3M463 146.5h3M747 146.5h3M462 147.5h3M748 147.5h3M462 148.5h3M749 148.5h3M461 149.5h3M750 149.5h3M461 150.5h3M751 150.5h3M460 151.5h3M752 151.5h3M460 152.5h3M753 152.5h3M459 153.5h3M754 153.5h3M459 154.5h3M756 154.5h3M149 155.5h7M458 155.5h3M756 155.5h4M144 156.5h15M458 156.5h3M757 156.5h5M141 157.5h21M457 157.5h3M759 157.5h4M140 158.5h9M156 158.5h7M457 158.5h3M760 158.5h4M138 159.5h6M159 159.5h6M456 159.5h3M762 159.5h3M137 160.5h4M162 160.5h5M456 160.5h3M763 160.5h3M78 161.5h9M136 161.5h3M163 161.5h6M455 161.5h3M764 161.5h3M78 162.5h15M135 162.5h3M165 162.5h6M454 162.5h3M765 162.5h3M78 163.5h37M134 163.5h3M167 163.5h6M454 163.5h3M766 163.5h4M87 164.5h34M133 164.5h3M169 164.5h6M272 164.5h8M453 164.5h3M767 164.5h4M93 165.5h33M132 165.5h3M171 165.5h6M268 165.5h13M453 165.5h3M768 165.5h4M115 166.5h19M173 166.5h7M264 166.5h18M452 166.5h3M770 166.5h3M121 167.5h12M175 167.5h11M250 167.5h22M280 167.5h4M452 167.5h3M771 167.5h3M126 168.5h6M177 168.5h12M248 168.5h20M281 168.5h5M451 168.5h3M772 168.5h3M180 169.5h12M246 169.5h18M282 169.5h5M451 169.5h3M773 169.5h3M186 170.5h9M245 170.5h5M284 170.5h4M450 170.5h3M774 170.5h3M189 171.5h10M243 171.5h5M286 171.5h3M450 171.5h3M775 171.5h3M192 172.5h10M241 172.5h5M287 172.5h3M449 172.5h3M776 172.5h3M195 173.5h10M239 173.5h6M288 173.5h3M448 173.5h3M777 173.5h4M199 174.5h9M237 174.5h6M289 174.5h4M448 174.5h2M778 174.5h4M202 175.5h9M236 175.5h5M290 175.5h5M447 175.5h3M779 175.5h5M205 176.5h7M234 176.5h5M291 176.5h5M446 176.5h3M781 176.5h5M208 177.5h5M233 177.5h4M293 177.5h5M445 177.5h3M782 177.5h5M211 178.5h4M232 178.5h4M295 178.5h6M443 178.5h4M784 178.5h5M212 179.5h4M230 179.5h4M296 179.5h7M441 179.5h5M786 179.5h4M213 180.5h5M229 180.5h4M298 180.5h6M440 180.5h5M787 180.5h4M215 181.5h6M227 181.5h5M301 181.5h5M438 181.5h5M789 181.5h3M216 182.5h14M303 182.5h4M437 182.5h4M790 182.5h4M218 183.5h11M304 183.5h7M436 183.5h4M791 183.5h4M221 184.5h6M306 184.5h6M435 184.5h3M792 184.5h4M307 185.5h7M434 185.5h3M794 185.5h4M311 186.5h4M432 186.5h4M795 186.5h4M312 187.5h4M429 187.5h6M796 187.5h6M314 188.5h4M426 188.5h8M798 188.5h9M315 189.5h4M419 189.5h13M799 189.5h13M316 190.5h4M413 190.5h16M802 190.5h20M318 191.5h4M410 191.5h16M807 191.5h21M319 192.5h4M407 192.5h12M812 192.5h22M320 193.5h4M404 193.5h9M822 193.5h14M322 194.5h3M401 194.5h9M828 194.5h25M323 195.5h4M398 195.5h9M834 195.5h24M324 196.5h4M394 196.5h10M836 196.5h23M325 197.5h4M392 197.5h9M853 197.5h7M327 198.5h4M389 198.5h9M858 198.5h4M328 199.5h4M387 199.5h7M859 199.5h5M329 200.5h4M384 200.5h8M860 200.5h5M331 201.5h4M383 201.5h6M862 201.5h5M332 202.5h5M381 202.5h6M864 202.5h7M885 202.5h1M333 203.5h7M379 203.5h5M865 203.5h24M335 204.5h8M377 204.5h6M867 204.5h25M337 205.5h8M376 205.5h5M871 205.5h14M886 205.5h9M340 206.5h8M374 206.5h5M889 206.5h12M343 207.5h34M892 207.5h14M345 208.5h31M895 208.5h14M348 209.5h26M901 209.5h10M906 210.5h7M909 211.5h6M911 212.5h6M913 213.5h6M915 214.5h8M917 215.5h11M919 216.5h12M923 217.5h12M928 218.5h9M931 219.5h7M935 220.5h5M937 221.5h5M938 222.5h7M940 223.5h5M942 224.5h3" stroke="#ff0000" stroke-width="1"/>
<path d="M133 469.5h2M133 470.5h3M133 471.5h3M133 472.5h3M133 473.5h3M133 474.5h3M133 475.5h3M133 476.5h3M133 477.5h3M132 478.5h4M132 479.5h4M132 480.5h2M135 480.5h2M132 481.5h2M135 481.5h2M132 482.5h2M135 482.5h2M132 483.5h2M135 483.5h2M132 484.5h2M135 484.5h2M142 484.5h2M132 485.5h2M135 485.5h2M142 485.5h3M132 486.5h2M135 486.5h2M142 486.5h3M132 487.5h2M135 487.5h2M142 487.5h3M131 488.5h2M135 488.5h2M141 488.5h4M131 489.5h2M136 489.5h2M141 489.5h2M144 489.5h2M131 490.5h2M136 490.5h2M141 490.5h2M144 490.5h2M131 491.5h2M136 491.5h2M141 491.5h2M144 491.5h2M131 492.5h2M136 492.5h2M140 492.5h2M144 492.5h2M131 493.5h2M136 493.5h2M140 493.5h2M145 493.5h2M131 494.5h2M136 494.5h2M140 494.5h2M145 494.5h2M131 495.5h2M136 495.5h2M140 495.5h2M145 495.5h2M131 496.5h2M136 496.5h2M140 496.5h2M145 496.5h2M131 497.5h2M136 497.5h5M145 497.5h2" stroke="#0000ff" stroke-width="1"/>
<path d="M173 455.5h3M173 456.5h3M173 457.5h3M173 458.5h3M173 459.5h3M173 460.5h3M173 461.5h3M173 462.5h3M173 463.5h3M173 464.5h3M173 465.5h3M173 466.5h3M173 467.5h3M173 468.5h3M172 469.5h2M175 469.5h2M172 470.5h2M175 470.5h2M172 471.5h2M175 471.5h2M172 472.5h2M175 472.5h2M172 473.5h2M175 473.5h2M172 474.5h2M175 474.5h2M172 475.5h2M175 475.5h2M172 476.5h2M175 476.5h2M172 477.5h2M175 477.5h2M172 478.5h2M175 478.5h2M172 479.5h2M175 479.5h2M172 480.5h2M175 480.5h2M172 481.5h2M175 481.5h2M172 482.5h2M176 482.5h2M171 483.5h2M176 483.5h2M171 484.5h2M176 484.5h2M182 484.5h2M171 485.5h2M176 485.5h2M182 485.5h3M171 486.5h2M176 486.5h2M182 486.5h3M171 487.5h2M176 487.5h2M182 487.5h3M171 488.5h2M176 488.5h2M181 488.5h4M171 489.5h2M176 489.5h2M181 489.5h2M184 489.5h2M171 490.5h2M176 490.5h2M181 490.5h2M184 490.5h2M171 491.5h2M176 491.5h2M181 491.5h2M184 491.5h2M171 492.5h2M176 492.5h2M181 492.5h2M184 492.5h2M171 493.5h2M176 493.5h2M180 493.5h2M185 493.5h2M171 494.5h2M176 494.5h2M180 494.5h2M185 494.5h2M171 495.5h2M177 495.5h2M180 495.5h2M185 495.5h2M171 496.5h2M177 496.5h2M180 496.5h2M185 496.5h2M170 497.5h2M177 497.5h4M185 497.5h2" stroke="#0000ff" stroke-width="1"/>
<path d="M245 267.5h2M257 267.5h2M266 267.5h2M245 268.5h2M257 268.5h2M266 268.5h3M245 269.5h3M257 269.5h3M266 269.5h3M245 270.5h3M257 270.5h3M266 270.5h3M245 271.5h3M257 271.5h3M265 271.5h4M245 272.5h3M257 272.5h3M265 272.5h2M268 272.5h2M245 273.5h3M257 273.5h4M265 273.5h2M268 273.5h2M245 274.5h4M256 274.5h2M259 274.5h2M265 274.5h2M268 274.5h2M245 275.5h4M256 275.5h2M259 275.5h2M265 275.5h2M268 275.5h2M245 276.5h4M256 276.5h2M259 276.5h2M264 276.5h2M269 276.5h2M245 277.5h4M256 277.5h2M259 277.5h2M264 277.5h2M269 277.5h2M245 278.5h4M256 278.5h2M260 278.5h2M264 278.5h2M269 278.5h2M245 279.5h2M248 279.5h2M256 279.5h2M260 279.5h6M269 279.5h2M245 280.5h2M248 280.5h2M256 280.5h2M261 280.5h3M270 280.5h2M245 281.5h2M248 281.5h2M256 281.5h2M270 281.5h2M245 282.5h2M248 282.5h2M256 282.5h2M270 282.5h2M275 282.5h3M245 283.5h2M248 283.5h2M255 283.5h2M270 283.5h2M275 283.5h3M245 284.5h2M248 284.5h2M255 284.5h2M270 284.5h2M275 284.5h3M245 285.5h2M248 285.5h2M255 285.5h2M271 285.5h2M275 285.5h3M245 286.5h2M248 286.5h2M255 286.5h2M271 286.5h2M275 286.5h3M245 287.5h2M249 287.5h2M255 287.5h2M271 287.5h2M274 287.5h4M245 288.5h2M249 288.5h2M255 288.5h2M271 288.5h2M274 288.5h4M245 289.5h2M249 289.5h2M255 289.5h2M271 289.5h2M274 289.5h4M245 290.5h2M249 290.5h2M255 290.5h2M272 290.5h6M245 291.5h2M249 291.5h2M255 291.5h2M272 291.5h6M245 292.5h2M249 292.5h2M254 292.5h2M272 292.5h3M276 292.5h2M245 293.5h2M249 293.5h2M254 293.5h2M272 293.5h3M276 293.5h2M245 294.5h2M249 294.5h2M254 294.5h2M273 294.5h2M276 294.5h2M245 295.5h2M249 295.5h2M254 295.5h2M276 295.5h2M245 296.5h2M249 296.5h2M254 296.5h2M276 296.5h2M245 297.5h2M249 297.5h2M254 297.5h2M276 297.5h2M245 298.5h2M249 298.5h2M254 298.5h2M276 298.5h2M244 299.5h2M249 299.5h2M254 299.5h2M276 299.5h2M244 300.5h2M250 300.5h2M254 300.5h2M276 300.5h2M244 301.5h2M250 301.5h2M254 301.5h2M276 301.5h2M244 302.5h2M250 302.5h2M253 302.5h2M277 302.5h2M244 303.5h2M250 303.5h2M253 303.5h2M277 303.5h2M244 304.5h2M250 304.5h2M253 304.5h2M277 304.5h2M244 305.5h2M250 305.5h2M253 305.5h2M277 305.5h2M244 306.5h2M250 306.5h2M253 306.5h2M277 306.5h2M244 307.5h2M250 307.5h2M253 307.5h2M277 307.5h2M244 308.5h2M250 308.5h2M253 308.5h2M277 308.5h2M244 309.5h2M250 309.5h2M253 309.5h2M277 309.5h2M244 310.5h2M250 310.5h2M253 310.5h2M277 310.5h2M244 311.5h2M250 311.5h2M253 311.5h2M277 311.5h2M244 312.5h2M250 312.5h4M277 312.5h2M244 313.5h2M251 313.5h3M277 313.5h2M244 314.5h2M251 314.5h3M277 314.5h2M244 315.5h2M251 315.5h3M277 315.5h2M244 316.5h2M251 316.5h3M277 316.5h2M243 317.5h2M251 317.5h3M277 317.5h2M243 318.5h2M251 318.5h3M277 318.5h2M243 319.5h2M251 319.5h3M277 319.5h2M243 320.5h2M251 320.5h3M277 320.5h2M243 321.5h2M251 321.5h2M277 321.5h2M243 322.5h2M251 322.5h2M277 322.5h2M243 323.5h2M278 323.5h2M227 324.5h2M243 324.5h2M278 324.5h2M227 325.5h2M243 325.5h2M278 325.5h2M227 326.5h2M243 326.5h2M278 326.5h2M227 327.5h2M243 327.5h2M278 327.5h2M227 328.5h2M243 328.5h2M278 328.5h2M227 329.5h2M243 329.5h2M278 329.5h2M227 330.5h3M243 330.5h2M278 330.5h2M227 331.5h3M243 331.5h2M278 331.5h2M227 332.5h3M243 332.5h2M278 332.5h2M227 333.5h3M243 333.5h2M278 333.5h2M227 334.5h3M243 334.5h2M278 334.5h2M227 335.5h3M243 335.5h2M278 335.5h2M227 336.5h3M243 336.5h2M278 336.5h2M227 337.5h3M243 337.5h2M279 337.5h2M227 338.5h3M243 338.5h2M279 338.5h2M227 339.5h3M242 339.5h2M279 339.5h2M227 340.5h3M239 340.5h2M242 340.5h2M279 340.5h2M227 341.5h3M239 341.5h2M242 341.5h2M279 341.5h2M227 342.5h3M239 342.5h5M279 342.5h2M227 343.5h3M239 343.5h5M279 343.5h2M227 344.5h3M239 344.5h5M279 344.5h2M227 345.5h3M239 345.5h5M279 345.5h2M227 346.5h3M239 346.5h5M279 346.5h2M227 347.5h3M239 347.5h5M279 347.5h2M227 348.5h3M239 348.5h5M279 348.5h2M227 349.5h3M239 349.5h5M279 349.5h2M227 350.5h3M239 350.5h2M242 350.5h2M279 350.5h2M227 351.5h3M239 351.5h2M242 351.5h2M279 351.5h2M227 352.5h3M239 352.5h2M279 352.5h2M227 353.5h3M239 353.5h2M279 353.5h2M227 354.5h3M239 354.5h2M279 354.5h2M227 355.5h3M239 355.5h2M279 355.5h2M227 356.5h3M239 356.5h2M279 356.5h2M227 357.5h3M239 357.5h2M279 357.5h2M227 358.5h3M239 358.5h2M279 358.5h2M227 359.5h3M239 359.5h2M279 359.5h2M227 360.5h3M239 360.5h2M279 360.5h2M227 361.5h3M239 361.5h2M279 361.5h2M227 362.5h3M239 362.5h2M279 362.5h2M227 363.5h3M239 363.5h2M279 363.5h2M227 364.5h3M239 364.5h2M279 364.5h2M227 365.5h3M239 365.5h2M279 365.5h2M227 366.5h3M238 366.5h2M279 366.5h2M227 367.5h3M238 367.5h2M279 367.5h2M226 368.5h4M238 368.5h2M279 368.5h2M226 369.5h4M238 369.5h2M279 369.5h2M226 370.5h4M238 370.5h2M280 370.5h2M226 371.5h4M238 371.5h2M280 371.5h2M226 372.5h4M238 372.5h2M280 372.5h2M226 373.5h4M238 373.5h2M280 373.5h2M226 374.5h4M238 374.5h2M280 374.5h2M226 375.5h4M238 375.5h2M280 375.5h2M226 376.5h4M238 376.5h2M280 376.5h2M226 377.5h4M238 377.5h2M280 377.5h2M226 378.5h4M238 378.5h2M280 378.5h2M226 379.5h4M238 379.5h2M280 379.5h2M226 380.5h4M238 380.5h2M280 380.5h2M226 381.5h4M238 381.5h2M280 381.5h2M285 381.5h1M291 381.5h6M226 382.5h4M238 382.5h2M280 382.5h2M284 382.5h3M291 382.5h6M226 383.5h4M238 383.5h2M280 383.5h2M284 383.5h3M291 383.5h2M295 383.5h2M226 384.5h4M238 384.5h2M280 384.5h2M284 384.5h3M291 384.5h2M295 384.5h2M226 385.5h2M229 385.5h2M238 385.5h2M280 385.5h2M284 385.5h3M291 385.5h2M295 385.5h2M226 386.5h2M229 386.5h2M238 386.5h2M280 386.5h2M284 386.5h3M291 386.5h2M295 386.5h2M226 387.5h2M229 387.5h2M238 387.5h2M280 387.5h2M284 387.5h3M291 387.5h2M295 387.5h2M226 388.5h2M229 388.5h2M238 388.5h2M280 388.5h2M284 388.5h3M290 388.5h2M295 388.5h2M226 389.5h2M229 389.5h2M238 389.5h2M280 389.5h2M284 389.5h3M290 389.5h2M295 389.5h2M226 390.5h2M229 390.5h2M238 390.5h2M280 390.5h2M284 390.5h3M290 390.5h2M295 390.5h2M226 391.5h2M229 391.5h2M238 391.5h2M280 391.5h2M284 391.5h3M290 391.5h2M295 391.5h2M226 392.5h2M229 392.5h2M238 392.5h2M280 392.5h2M284 392.5h3M290 392.5h2M295 392.5h2M226 393.5h2M229 393.5h2M238 393.5h2M280 393.5h2M284 393.5h3M290 393.5h2M295 393.5h2M226 394.5h2M229 394.5h2M238 394.5h2M280 394.5h2M284 394.5h3M290 394.5h2M295 394.5h2M226 395.5h2M229 395.5h2M238 395.5h2M280 395.5h2M284 395.5h3M290 395.5h2M295 395.5h2M226 396.5h2M229 396.5h2M238 396.5h2M280 396.5h2M284 396.5h3M290 396.5h2M295 396.5h2M226 397.5h2M229 397.5h2M238 397.5h2M280 397.5h2M283 397.5h4M290 397.5h2M295 397.5h2M226 398.5h2M229 398.5h2M238 398.5h2M280 398.5h2M283 398.5h4M290 398.5h2M295 398.5h2M226 399.5h2M229 399.5h2M238 399.5h2M280 399.5h2M283 399.5h4M290 399.5h2M295 399.5h2M226 400.5h2M229 400.5h2M238 400.5h2M280 400.5h2M283 400.5h4M290 400.5h2M295 400.5h2M226 401.5h2M229 401.5h2M238 401.5h2M280 401.5h2M283 401.5h4M290 401.5h2M295 401.5h2M226 402.5h2M229 402.5h2M238 402.5h2M280 402.5h2M283 402.5h4M290 402.5h2M295 402.5h2M226 403.5h2M229 403.5h2M238 403.5h2M280 403.5h2M283 403.5h4M290 403.5h2M295 403.5h2M226 404.5h2M229 404.5h2M238 404.5h2M280 404.5h2M283 404.5h4M290 404.5h2M295 404.5h2M226 405.5h2M229 405.5h2M238 405.5h2M281 405.5h6M290 405.5h2M295 405.5h2M226 406.5h2M229 406.5h2M238 406.5h2M281 406.5h6M290 406.5h2M295 406.5h2M226 407.5h2M229 407.5h2M238 407.5h2M281 407.5h6M290 407.5h2M295 407.5h2M226 408.5h2M229 408.5h2M238 408.5h2M281 408.5h4M286 408.5h2M290 408.5h2M296 408.5h2M226 409.5h2M229 409.5h2M238 409.5h2M281 409.5h4M286 409.5h2M290 409.5h2M296 409.5h2M226 410.5h2M229 410.5h2M238 410.5h2M281 410.5h4M286 410.5h2M290 410.5h2M296 410.5h2M226 411.5h2M229 411.5h2M238 411.5h2M281 411.5h4M286 411.5h2M290 411.5h2M296 411.5h2M226 412.5h2M229 412.5h2M238 412.5h2M281 412.5h4M286 412.5h2M290 412.5h2M296 412.5h2M226 413.5h2M229 413.5h2M238 413.5h2M281 413.5h4M286 413.5h2M290 413.5h2M296 413.5h2M226 414.5h2M229 414.5h2M238 414.5h2M281 414.5h4M286 414.5h2M290 414.5h2M296 414.5h2M226 415.5h2M229 415.5h2M238 415.5h2M281 415.5h4M286 415.5h2M290 415.5h2M296 415.5h2M226 416.5h2M229 416.5h2M238 416.5h2M281 416.5h4M286 416.5h2M290 416.5h2M296 416.5h2M225 417.5h2M229 417.5h2M237 417.5h2M281 417.5h4M286 417.5h2M290 417.5h2M296 417.5h2M225 418.5h2M229 418.5h2M237 418.5h2M281 418.5h4M286 418.5h2M290 418.5h2M296 418.5h2M225 419.5h2M229 419.5h2M237 419.5h2M281 419.5h3M286 419.5h2M290 419.5h2M296 419.5h2M225 420.5h2M229 420.5h2M237 420.5h2M281 420.5h3M286 420.5h2M289 420.5h2M296 420.5h2M225 421.5h2M229 421.5h2M237 421.5h2M281 421.5h3M286 421.5h2M289 421.5h2M296 421.5h2M225 422.5h2M229 422.5h2M237 422.5h2M281 422.5h3M286 422.5h2M289 422.5h2M296 422.5h2M225 423.5h2M229 423.5h2M237 423.5h2M281 423.5h3M286 423.5h2M289 423.5h2M296 423.5h2M225 424.5h2M229 424.5h2M237 424.5h2M281 424.5h3M286 424.5h2M289 424.5h2M296 424.5h2M225 425.5h2M229 425.5h2M237 425.5h2M281 425.5h3M286 425.5h2M289 425.5h2M296 425.5h2M225 426.5h2M229 426.5h2M237 426.5h2M281 426.5h3M286 426.5h2M289 426.5h2M296 426.5h2M225 427.5h2M229 427.5h2M237 427.5h2M281 427.5h3M286 427.5h2M289 427.5h2M296 427.5h2M225 428.5h2M229 428.5h2M237 428.5h2M281 428.5h3M286 428.5h2M289 428.5h2M296 428.5h2M225 429.5h2M229 429.5h2M237 429.5h2M281 429.5h3M286 429.5h2M289 429.5h2M296 429.5h2M225 430.5h2M229 430.5h2M237 430.5h2M281 430.5h3M286 430.5h2M289 430.5h2M296 430.5h2M225 431.5h2M229 431.5h2M237 431.5h2M281 431.5h3M286 431.5h2M289 431.5h2M296 431.5h2M225 432.5h2M229 432.5h2M237 432.5h2M281 432.5h3M286 432.5h2M289 432.5h2M296 432.5h2M225 433.5h2M229 433.5h2M237 433.5h2M281 433.5h3M286 433.5h2M289 433.5h2M297 433.5h2M225 434.5h2M229 434.5h2M237 434.5h2M281 434.5h3M286 434.5h2M289 434.5h2M297 434.5h2M225 435.5h2M229 435.5h2M237 435.5h2M281 435.5h3M286 435.5h2M289 435.5h2M297 435.5h2M225 436.5h2M229 436.5h2M237 436.5h2M281 436.5h3M286 436.5h2M289 436.5h2M297 436.5h2M225 437.5h2M229 437.5h2M237 437.5h2M281 437.5h3M286 437.5h2M289 437.5h2M297 437.5h2M225 438.5h2M229 438.5h2M237 438.5h2M281 438.5h3M286 438.5h2M289 438.5h2M297 438.5h2M225 439.5h2M229 439.5h2M237 439.5h2M281 439.5h3M286 439.5h2M289 439.5h2M297 439.5h2M225 440.5h2M230 440.5h2M237 440.5h2M281 440.5h3M286 440.5h2M289 440.5h2M297 440.5h2M225 441.5h2M230 441.5h2M237 441.5h2M286 441.5h2M289 441.5h2M297 441.5h2M225 442.5h2M230 442.5h2M237 442.5h2M286 442.5h2M289 442.5h2M297 442.5h2M225 443.5h2M230 443.5h2M237 443.5h2M286 443.5h2M289 443.5h2M297 443.5h2M225 444.5h2M230 444.5h2M237 444.5h2M286 444.5h2M289 444.5h2M297 444.5h2M225 445.5h2M230 445.5h2M237 445.5h2M286 445.5h2M289 445.5h2M297 445.5h2M225 446.5h2M230 446.5h2M237 446.5h2M287 446.5h4M297 446.5h2M225 447.5h2M230 447.5h2M237 447.5h2M287 447.5h4M297 447.5h2M225 448.5h2M230 448.5h2M237 448.5h2M287 448.5h4M297 448.5h2M225 449.5h2M230 449.5h2M237 449.5h2M287 449.5h4M297 449.5h2M225 450.5h2M230 450.5h2M237 450.5h2M287 450.5h4M297 450.5h2M225 451.5h2M230 451.5h2M237 451.5h2M287 451.5h4M297 451.5h2M225 452.5h2M230 452.5h2M237 452.5h2M287 452.5h3M297 452.5h2M225 453.5h2M230 453.5h2M237 453.5h2M287 453.5h3M297 453.5h2M225 454.5h2M230 454.5h2M237 454.5h2M287 454.5h3M298 454.5h2M225 455.5h2M230 455.5h2M237 455.5h2M287 455.5h3M298 455.5h2M225 456.5h2M230 456.5h2M237 456.5h2M287 456.5h3M298 456.5h2M225 457.5h2M230 457.5h2M237 457.5h2M287 457.5h3M298 457.5h2M225 458.5h2M230 458.5h2M237 458.5h2M287 458.5h3M298 458.5h2M225 459.5h2M230 459.5h2M237 459.5h2M287 459.5h3M298 459.5h2M225 460.5h2M230 460.5h2M237 460.5h2M287 460.5h3M298 460.5h2M225 461.5h2M230 461.5h2M237 461.5h2M287 461.5h3M298 461.5h2M225 462.5h2M230 462.5h2M237 462.5h2M287 462.5h3M298 462.5h2M225 463.5h2M230 463.5h2M237 463.5h2M287 463.5h3M298 463.5h2M225 464.5h2M230 464.5h2M237 464.5h2M287 464.5h3M298 464.5h2M225 465.5h2M230 465.5h2M237 465.5h2M287 465.5h3M298 465.5h2M224 466.5h2M230 466.5h2M237 466.5h2M287 466.5h3M298 466.5h2M224 467.5h2M230 467.5h2M237 467.5h2M287 467.5h3M298 467.5h2M224 468.5h2M230 468.5h2M236 468.5h2M287 468.5h3M298 468.5h2M224 469.5h2M230 469.5h2M236 469.5h2M287 469.5h3M298 469.5h2M224 470.5h2M230 470.5h2M236 470.5h2M287 470.5h3M299 470.5h2M224 471.5h2M230 471.5h2M236 471.5h2M287 471.5h3M299 471.5h2M224 472.5h2M230 472.5h2M236 472.5h2M287 472.5h3M299 472.5h2M224 473.5h2M230 473.5h2M236 473.5h2M287 473.5h3M299 473.5h2M224 474.5h2M230 474.5h2M236 474.5h2M287 474.5h3M299 474.5h2M224 475.5h2M230 475.5h2M236 475.5h2M287 475.5h3M299 475.5h2M224 476.5h2M230 476.5h2M236 476.5h2M287 476.5h3M299 476.5h2M224 477.5h2M230 477.5h2M236 477.5h2M287 477.5h3M299 477.5h2M224 478.5h2M230 478.5h2M236 478.5h2M287 478.5h3M300 478.5h2M224 479.5h2M230 479.5h2M236 479.5h2M287 479.5h3M300 479.5h2M224 480.5h2M230 480.5h2M236 480.5h2M287 480.5h3M300 480.5h2M224 481.5h2M230 481.5h2M236 481.5h2M287 481.5h3M300 481.5h2M224 482.5h2M230 482.5h2M236 482.5h2M287 482.5h3M300 482.5h2M224 483.5h2M230 483.5h2M236 483.5h2M287 483.5h3M300 483.5h2M224 484.5h2M230 484.5h2M233 484.5h2M236 484.5h2M300 484.5h2M223 485.5h2M230 485.5h2M233 485.5h5M300 485.5h2M223 486.5h2M230 486.5h8M301 486.5h2M223 487.5h2M230 487.5h8M301 487.5h2M223 488.5h2M230 488.5h3M235 488.5h3M301 488.5h2M223 489.5h2M230 489.5h3M235 489.5h3M301 489.5h2M223 490.5h2M235 490.5h3M301 490.5h2M222 491.5h2M235 491.5h3M302 491.5h2M222 492.5h2M236 492.5h2M302 492.5h2M222 493.5h2M236 493.5h2M302 493.5h2M222 494.5h2M302 494.5h2M222 495.5h2M302 495.5h2M222 496.5h2M303 496.5h2M221 497.5h2M303 497.5h2" stroke="#0000ff" stroke-width="1"/>
<path d="M357 426.5h2M357 427.5h2M357 428.5h2M357 429.5h3M357 430.5h3M357 431.5h3M357 432.5h3M357 433.5h3M357 434.5h3M357 435.5h3M357 436.5h3M357 437.5h3M357 438.5h3M357 439.5h3M357 440.5h3M357 441.5h3M357 442.5h3M357 443.5h3M357 444.5h3M357 445.5h3M357 446.5h3M356 447.5h4M356 448.5h4M356 449.5h4M356 450.5h4M356 451.5h4M356 452.5h2M359 452.5h2M356 453.5h2M359 453.5h2M356 454.5h2M359 454.5h2M356 455.5h2M359 455.5h2M356 456.5h2M359 456.5h2M356 457.5h2M359 457.5h2M356 458.5h2M359 458.5h2M356 459.5h2M359 459.5h2M356 460.5h2M359 460.5h2M356 461.5h2M359 461.5h2M356 462.5h2M359 462.5h2M356 463.5h2M359 463.5h2M356 464.5h2M359 464.5h2M356 465.5h2M359 465.5h2M356 466.5h2M359 466.5h2M356 467.5h2M359 467.5h2M356 468.5h2M359 468.5h2M356 469.5h2M359 469.5h2M355 470.5h2M359 470.5h2M355 471.5h2M359 471.5h2M355 472.5h2M359 472.5h2M355 473.5h2M359 473.5h2M355 474.5h2M359 474.5h2M355 475.5h2M360 475.5h2M355 476.5h2M360 476.5h2M355 477.5h2M360 477.5h2M355 478.5h2M360 478.5h2M355 479.5h2M360 479.5h2M355 480.5h2M360 480.5h2M355 481.5h2M360 481.5h2M355 482.5h2M360 482.5h2M355 483.5h2M360 483.5h2M355 484.5h2M360 484.5h2M367 484.5h2M355 485.5h2M360 485.5h2M366 485.5h3M355 486.5h2M360 486.5h2M366 486.5h3M355 487.5h2M360 487.5h2M366 487.5h3M355 488.5h2M360 488.5h2M366 488.5h4M355 489.5h2M360 489.5h2M365 489.5h2M368 489.5h2M355 490.5h2M360 490.5h2M365 490.5h2M368 490.5h2M355 491.5h2M360 491.5h2M365 491.5h2M368 491.5h2M355 492.5h2M360 492.5h2M365 492.5h2M369 492.5h2M354 493.5h2M360 493.5h2M364 493.5h2M369 493.5h2M354 494.5h2M360 494.5h2M364 494.5h2M369 494.5h2M354 495.5h2M360 495.5h2M364 495.5h2M369 495.5h2M354 496.5h2M360 496.5h2M364 496.5h2M370 496.5h2M354 497.5h2M360 497.5h6M370 497.5h2" stroke="#0000ff" stroke-width="1"/>
<path d="M396 484.5h3M396 485.5h3M396 486.5h3M396 487.5h3M396 488.5h3M395 489.5h2M398 489.5h2M395 490.5h2M398 490.5h2M395 491.5h2M398 491.5h2M395 492.5h2M398 492.5h2M394 493.5h2M399 493.5h2M394 494.5h2M399 494.5h2M394 495.5h2M399 495.5h2M394 496.5h2M399 496.5h2M393 497.5h2M400 497.5h2" stroke="#0000ff" stroke-width="1"/>
<path d="M408 484.5h3M408 485.5h3M408 486.5h3M408 487.5h3M408 488.5h3M407 489.5h2M410 489.5h2M407 490.5h2M410 490.5h2M407 491.5h2M410 491.5h2M407 492.5h2M410 492.5h2M406 493.5h2M411 493.5h2M406 494.5h2M411 494.5h2M406 495.5h2M411 495.5h2M406 496.5h2M411 496.5h2M405 497.5h2M412 497.5h2" stroke="#0000ff" stroke-width="1"/>
<path d="M426 484.5h3M426 485.5h3M426 486.5h3M426 487.5h3M425 488.5h2M428 488.5h2M425 489.5h2M428 489.5h2M425 490.5h2M428 490.5h2M425 491.5h2M428 491.5h2M425 492.5h2M428 492.5h2M424 493.5h2M429 493.5h2M424 494.5h2M429 494.5h2M424 495.5h2M429 495.5h2M424 496.5h2M429 496.5h2M423 497.5h2M430 497.5h2" stroke="#0000ff" stroke-width="1"/>
<path d="M445 484.5h2M451 484.5h3M445 485.5h3M451 485.5h3M445 486.5h3M451 486.5h3M445 487.5h3M451 487.5h3M444 488.5h4M450 488.5h4M444 489.5h2M447 489.5h2M450 489.5h2M453 489.5h2M444 490.5h2M447 490.5h2M450 490.5h2M453 490.5h2M444 491.5h2M447 491.5h2M450 491.5h2M453 491.5h2M443 492.5h2M447 492.5h4M453 492.5h2M443 493.5h2M448 493.5h3M454 493.5h2M443 494.5h2M448 494.5h3M454 494.5h2M443 495.5h2M448 495.5h3M454 495.5h2M443 496.5h2M454 496.5h2M442 497.5h2M455 497.5h2" stroke="#0000ff" stroke-width="1"/>
<path d="M780 484.5h2M780 485.5h3M780 486.5h3M780 487.5h3M779 488.5h4M779 489.5h2M782 489.5h2M779 490.5h2M782 490.5h2M779 491.5h2M782 491.5h2M779 492.5h2M782 492.5h2M778 493.5h2M782 493.5h2M778 494.5h2M783 494.5h2M778 495.5h2M783 495.5h2M778 496.5h2M783 496.5h2M777 497.5h2M783 497.5h2" stroke="#0000ff" stroke-width="1"/>
<path d="M807 411.5h3M807 412.5h3M807 413.5h3M807 414.5h3M807 415.5h3M807 416.5h3M807 417.5h3M807 418.5h3M807 419.5h3M807 420.5h3M807 421.5h3M807 422.5h3M807 423.5h3M807 424.5h3M807 425.5h3M807 426.5h3M807 427.5h3M807 428.5h3M807 429.5h3M807 430.5h3M807 431.5h3M807 432.5h3M807 433.5h3M807 434.5h3M807 435.5h3M807 436.5h3M807 437.5h3M807 438.5h3M807 439.5h4M807 440.5h4M806 441.5h2M809 441.5h2M806 442.5h2M809 442.5h2M806 443.5h2M809 443.5h2M806 444.5h2M809 444.5h2M806 445.5h2M809 445.5h2M806 446.5h2M809 446.5h2M806 447.5h2M809 447.5h2M806 448.5h2M809 448.5h2M806 449.5h2M809 449.5h2M806 450.5h2M809 450.5h2M806 451.5h2M809 451.5h2M806 452.5h2M809 452.5h2M806 453.5h2M809 453.5h2M806 454.5h2M809 454.5h2M806 455.5h2M809 455.5h2M806 456.5h2M809 456.5h2M806 457.5h2M809 457.5h2M806 458.5h2M809 458.5h2M806 459.5h2M809 459.5h2M806 460.5h2M809 460.5h2M806 461.5h2M809 461.5h2M806 462.5h2M809 462.5h2M806 463.5h2M809 463.5h2M806 464.5h2M809 464.5h2M806 465.5h2M809 465.5h2M806 466.5h2M809 466.5h2M806 467.5h2M810 467.5h2M806 468.5h2M810 468.5h2M806 469.5h2M810 469.5h2M806 470.5h2M810 470.5h2M805 471.5h2M810 471.5h2M805 472.5h2M810 472.5h2M805 473.5h2M810 473.5h2M805 474.5h2M810 474.5h2M805 475.5h2M810 475.5h2M805 476.5h2M810 476.5h2M805 477.5h2M810 477.5h2M805 478.5h2M810 478.5h2M805 479.5h2M810 479.5h2M805 480.5h2M810 480.5h2M805 481.5h2M810 481.5h2M805 482.5h2M810 482.5h2M800 483.5h2M805 483.5h2M810 483.5h2M798 484.5h5M805 484.5h2M810 484.5h2M798 485.5h2M802 485.5h2M805 485.5h2M810 485.5h2M798 486.5h2M802 486.5h2M805 486.5h2M810 486.5h2M798 487.5h2M802 487.5h2M805 487.5h2M810 487.5h2M798 488.5h2M802 488.5h2M805 488.5h2M810 488.5h2M797 489.5h2M802 489.5h2M805 489.5h2M810 489.5h2M797 490.5h2M803 490.5h4M810 490.5h2M797 491.5h2M803 491.5h4M810 491.5h2M797 492.5h2M803 492.5h4M810 492.5h2M796 493.5h2M803 493.5h4M810 493.5h2M796 494.5h2M803 494.5h4M810 494.5h2M796 495.5h2M804 495.5h3M811 495.5h2M796 496.5h2M804 496.5h3M811 496.5h2M795 497.5h2M804 497.5h3M811 497.5h2" stroke="#0000ff" stroke-width="1"/>
<path d="M828 440.5h2M828 441.5h2M828 442.5h2M828 443.5h2M828 444.5h2M828 445.5h2M828 446.5h3M828 447.5h3M828 448.5h3M828 449.5h3M828 450.5h3M828 451.5h3M828 452.5h3M828 453.5h3M827 454.5h4M827 455.5h4M827 456.5h4M827 457.5h4M827 458.5h4M827 459.5h4M827 460.5h4M827 461.5h4M827 462.5h4M827 463.5h4M827 464.5h2M830 464.5h2M827 465.5h2M830 465.5h2M827 466.5h2M830 466.5h2M827 467.5h2M830 467.5h2M827 468.5h2M830 468.5h2M827 469.5h2M830 469.5h2M827 470.5h2M830 470.5h2M827 471.5h2M830 471.5h2M827 472.5h2M830 472.5h2M826 473.5h2M830 473.5h2M826 474.5h2M830 474.5h2M826 475.5h2M830 475.5h2M826 476.5h2M830 476.5h2M826 477.5h2M830 477.5h2M826 478.5h2M830 478.5h2M826 479.5h2M830 479.5h2M826 480.5h2M830 480.5h2M826 481.5h2M830 481.5h2M826 482.5h2M831 482.5h2M826 483.5h2M831 483.5h2M822 484.5h2M826 484.5h2M831 484.5h2M822 485.5h3M826 485.5h2M831 485.5h2M822 486.5h3M826 486.5h2M831 486.5h2M822 487.5h3M826 487.5h2M831 487.5h2M821 488.5h4M826 488.5h2M831 488.5h2M821 489.5h2M824 489.5h4M831 489.5h2M821 490.5h2M824 490.5h4M831 490.5h2M821 491.5h2M824 491.5h3M831 491.5h2M820 492.5h2M824 492.5h3M831 492.5h2M820 493.5h2M824 493.5h3M831 493.5h2M820 494.5h2M825 494.5h2M831 494.5h2M820 495.5h2M825 495.5h2M831 495.5h2M820 496.5h2M825 496.5h2M831 496.5h2M819 497.5h2M831 497.5h2" stroke="#0000ff" stroke-width="1"/>
<path d="M133 497.5H946" stroke="#fff" stroke-width="1"/>
<rect x="304" y="497" width="11" height="1" fill="#0000ff" stroke="none"/>
<path d="M266 372.5h4M266 373.5h5M266 374.5h9M265 375.5h3M271 375.5h6M265 376.5h3M271 376.5h6M265 377.5h3M274 377.5h3M265 378.5h3M274 378.5h3M264 379.5h3M274 379.5h3M264 380.5h3M275 380.5h3M264 381.5h3M275 381.5h3M263 382.5h3M275 382.5h3M263 383.5h3M275 383.5h3M262 384.5h3M275 384.5h3M262 385.5h3M275 385.5h3M261 386.5h3M275 386.5h3M261 387.5h3M275 387.5h3M261 388.5h3M276 388.5h3M260 389.5h3M276 389.5h3M260 390.5h3M276 390.5h3M260 391.5h3M276 391.5h3M259 392.5h3M276 392.5h3M259 393.5h3M276 393.5h3M259 394.5h3M276 394.5h3M258 395.5h3M276 395.5h3M258 396.5h3M276 396.5h3M258 397.5h3M276 397.5h3M258 398.5h3M276 398.5h3M257 399.5h3M276 399.5h3M257 400.5h3M277 400.5h3M257 401.5h3M277 401.5h3M257 402.5h3M277 402.5h3M257 403.5h3M277 403.5h3M257 404.5h3M277 404.5h3M256 405.5h3M277 405.5h3M256 406.5h3M277 406.5h3M256 407.5h3M277 407.5h3M256 408.5h3M277 408.5h3M256 409.5h3M277 409.5h3M256 410.5h3M277 410.5h3M255 411.5h3M277 411.5h3M255 412.5h3M278 412.5h3M255 413.5h3M278 413.5h3M255 414.5h3M278 414.5h3M255 415.5h3M278 415.5h3M255 416.5h3M278 416.5h3M254 417.5h3M279 417.5h3M254 418.5h3M279 418.5h3M254 419.5h3M279 419.5h3M254 420.5h3M279 420.5h3M254 421.5h3M279 421.5h3M254 422.5h3M280 422.5h3M254 423.5h3M280 423.5h3M254 424.5h3M280 424.5h3M253 425.5h3M280 425.5h3M253 426.5h3M280 426.5h3M253 427.5h3M280 427.5h3M253 428.5h3M281 428.5h3M253 429.5h3M281 429.5h3M253 430.5h3M281 430.5h3M253 431.5h3M281 431.5h3M253 432.5h3M281 432.5h3M252 433.5h3M282 433.5h3M252 434.5h3M282 434.5h3M252 435.5h3M282 435.5h3M252 436.5h3M282 436.5h3M251 437.5h3M282 437.5h3M250 438.5h3M283 438.5h3M250 439.5h3M283 439.5h3M249 440.5h3M283 440.5h3M248 441.5h3M283 441.5h3M248 442.5h3M283 442.5h3M247 443.5h3M284 443.5h3M247 444.5h3M284 444.5h3M247 445.5h3M284 445.5h3M246 446.5h3M284 446.5h3M246 447.5h3M284 447.5h3M246 448.5h3M285 448.5h3M245 449.5h3M285 449.5h3M245 450.5h3M285 450.5h3M245 451.5h3M285 451.5h3M245 452.5h3M286 452.5h3M245 453.5h3M286 453.5h3M245 454.5h3M286 454.5h3M245 455.5h3M286 455.5h3M244 456.5h3M287 456.5h3M244 457.5h3M287 457.5h3M244 458.5h3M287 458.5h3M244 459.5h3M288 459.5h3M244 460.5h3M288 460.5h3M244 461.5h3M289 461.5h3M244 462.5h3M289 462.5h3M244 463.5h3M289 463.5h3M243 464.5h3M290 464.5h3M243 465.5h3M290 465.5h3M243 466.5h3M291 466.5h3M243 467.5h3M291 467.5h3M243 468.5h3M292 468.5h3M243 469.5h3M292 469.5h3M243 470.5h3M293 470.5h3M243 471.5h3M293 471.5h3M243 472.5h3M294 472.5h3M243 473.5h3M294 473.5h3M243 474.5h3M295 474.5h3M243 475.5h3M295 475.5h3M242 476.5h3M296 476.5h3M242 477.5h3M296 477.5h3M242 478.5h3M297 478.5h3M242 479.5h3M298 479.5h3M242 480.5h3M298 480.5h3M242 481.5h3M299 481.5h3M242 482.5h3M299 482.5h3M242 483.5h3M300 483.5h3M241 484.5h3M301 484.5h3M241 485.5h3M302 485.5h3M240 486.5h3M302 486.5h3M240 487.5h3M303 487.5h3M239 488.5h3M304 488.5h3M238 489.5h3M305 489.5h3M227 490.5h4M238 490.5h3M307 490.5h3M226 491.5h5M238 491.5h3M307 491.5h4M225 492.5h3M229 492.5h3M237 492.5h3M308 492.5h5M224 493.5h3M230 493.5h4M237 493.5h3M310 493.5h4M223 494.5h3M230 494.5h10M311 494.5h9M223 495.5h3M232 495.5h6M313 495.5h18M222 496.5h3M234 496.5h4M314 496.5h28M221 497.5h4M320 497.5h22" stroke="#ffffff" stroke-width="1"/>
<path d="M374 353.5h571M358 354.5h587M353 355.5h21M348 356.5h10M346 357.5h7M344 358.5h4M343 359.5h3M340 360.5h4M339 361.5h4M338 362.5h2M337 363.5h2M336 364.5h2M335 365.5h2M334 366.5h2M333 367.5h2M332 368.5h2M331 369.5h2M330 370.5h2M329 371.5h2M329 372.5h2M328 373.5h2M328 374.5h2M327 375.5h2M327 376.5h2M326 377.5h2M326 378.5h2M325 379.5h2M325 380.5h2M324 381.5h2M324 382.5h2M323 383.5h2M323 384.5h2M323 385.5h2M323 386.5h2M322 387.5h2M322 388.5h2M322 389.5h2M322 390.5h2M321 391.5h2M321 392.5h2M321 393.5h2M320 394.5h2M320 395.5h2M320 396.5h2M319 397.5h2M319 398.5h2M318 399.5h2M317 400.5h2M316 401.5h3M316 402.5h1M314 403.5h2M314 404.5h2M314 405.5h2M313 406.5h2M251 407.5h64M241 408.5h73M235 409.5h16M233 410.5h8M230 411.5h5M228 412.5h5M226 413.5h4M224 414.5h4M223 415.5h3M222 416.5h2M221 417.5h2M220 418.5h2M219 419.5h2M218 420.5h2M218 421.5h2M217 422.5h2M217 423.5h2M217 424.5h2M216 425.5h2M208 426.5h10M201 427.5h16M197 428.5h11M194 429.5h7M191 430.5h6M189 431.5h5M187 432.5h4M186 433.5h3M185 434.5h2M184 435.5h2M183 436.5h2M182 437.5h2M181 438.5h2M180 439.5h2M179 440.5h2M178 441.5h2M177 442.5h2M176 443.5h2M176 444.5h2M175 445.5h2M174 446.5h2M174 447.5h2M173 448.5h2M173 449.5h2M173 450.5h2M172 451.5h2M172 452.5h2M172 453.5h2M172 454.5h2M171 455.5h2M171 456.5h2M171 457.5h2M170 458.5h2M169 459.5h2M168 460.5h2M167 461.5h2M166 462.5h2M166 463.5h2M166 464.5h2M166 465.5h2M165 466.5h2M165 467.5h2M165 468.5h2M163 469.5h3M162 470.5h3M161 471.5h2M160 472.5h2M159 473.5h2M158 474.5h2M157 475.5h2M156 476.5h2M155 477.5h2M154 478.5h2M154 479.5h2M154 480.5h2M153 481.5h2M152 482.5h3M148 483.5h6M146 484.5h6M144 485.5h4M143 486.5h3M142 487.5h2M140 488.5h3M139 489.5h3M139 490.5h1M138 491.5h2M137 492.5h2M137 493.5h2M136 494.5h2M136 495.5h2M134 496.5h2M78 497.5h58" stroke="#000000" stroke-width="1"/>
<rect x="136" y="479" width="3" height="19" fill="#000" stroke="none"/>
<rect x="155" y="479" width="3" height="19" fill="#000" stroke="none"/>
<rect x="167" y="479" width="3" height="19" fill="#000" stroke="none"/>
<rect x="173" y="479" width="3" height="19" fill="#000" stroke="none"/>
<rect x="218" y="479" width="3" height="19" fill="#000" stroke="none"/>
<rect x="315" y="479" width="3" height="19" fill="#000" stroke="none"/>
<rect x="321" y="479" width="6" height="19" fill="#000" stroke="none"/>
<path d="M140 497.5h1M143 497.5h1M146 497.5h1M149 497.5h1M153 497.5h1M156 497.5h1M159 497.5h1M162 497.5h1M165 497.5h1M168 497.5h1M171 497.5h1M174 497.5h1M177 497.5h1M180 497.5h1M183 497.5h1M186 497.5h1M189 497.5h1M192 497.5h1M195 497.5h1M198 497.5h1M201 497.5h1M204 497.5h1M207 497.5h1M210 497.5h1M213 497.5h1M216 497.5h1M219 497.5h1M222 497.5h1M225 497.5h1M228 497.5h1M231 497.5h1M234 497.5h1M237 497.5h1M240 497.5h1M243 497.5h1M246 497.5h1M249 497.5h1M252 497.5h1M255 497.5h1M258 497.5h1M261 497.5h1M264 497.5h1M267 497.5h1M270 497.5h1M273 497.5h1M276 497.5h1M279 497.5h1M282 497.5h1M285 497.5h1M288 497.5h1M291 497.5h1M294 497.5h1M298 497.5h1M301 497.5h1M304 497.5h1M307 497.5h1M310 497.5h1M313 497.5h1M316 497.5h1M319 497.5h1M322 497.5h1M325 497.5h1M328 497.5h1M331 497.5h1M334 497.5h1M337 497.5h1M340 497.5h1M343 497.5h1M346 497.5h1M349 497.5h1M352 497.5h1M355 497.5h1M358 497.5h1M361 497.5h1M364 497.5h1M367 497.5h1M370 497.5h1M373 497.5h1M376 497.5h1M379 497.5h1M382 497.5h1M385 497.5h1M388 497.5h1M391 497.5h1M394 497.5h1M397 497.5h1M400 497.5h1M403 497.5h1M406 497.5h1M409 497.5h1M412 497.5h1M415 497.5h1M418 497.5h1M421 497.5h1M424 497.5h1M427 497.5h1M430 497.5h1M433 497.5h1M436 497.5h1M439 497.5h1M443 497.5h1M446 497.5h1M449 497.5h1M452 497.5h1M455 497.5h1M458 497.5h1M461 497.5h1M464 497.5h1M467 497.5h1M470 497.5h1M473 497.5h1M476 497.5h1M479 497.5h1M482 497.5h1M485 497.5h1M488 497.5h1M491 497.5h1M494 497.5h1M497 497.5h1M500 497.5h1M503 497.5h1M506 497.5h1M509 497.5h1M512 497.5h1M515 497.5h1M518 497.5h1M521 497.5h1M524 497.5h1M527 497.5h1M530 497.5h1M533 497.5h1M536 497.5h1M539 497.5h1M542 497.5h1M545 497.5h1M548 497.5h1M551 497.5h1M554 497.5h1M557 497.5h1M560 497.5h1M563 497.5h1M566 497.5h1M569 497.5h1M572 497.5h1M575 497.5h1M578 497.5h1M581 497.5h1M584 497.5h1M588 497.5h1M591 497.5h1M594 497.5h1M597 497.5h1M600 497.5h1M603 497.5h1M606 497.5h1M609 497.5h1M612 497.5h1M615 497.5h1M618 497.5h1M621 497.5h1M624 497.5h1M627 497.5h1M630 497.5h1M633 497.5h1M636 497.5h1M639 497.5h1M642 497.5h1M645 497.5h1M648 497.5h1M651 497.5h1M654 497.5h1M657 497.5h1M660 497.5h1M663 497.5h1M666 497.5h1M669 497.5h1M672 497.5h1M675 497.5h1M678 497.5h1M681 497.5h1M684 497.5h1M687 497.5h1M690 497.5h1M693 497.5h1M696 497.5h1M699 497.5h1M702 497.5h1M705 497.5h1M708 497.5h1M711 497.5h1M714 497.5h1M717 497.5h1M720 497.5h1M723 497.5h1M726 497.5h1M729 497.5h1M733 497.5h1M736 497.5h1M739 497.5h1M742 497.5h1M745 497.5h1M748 497.5h1M751 497.5h1M754 497.5h1M757 497.5h1M760 497.5h1M763 497.5h1M766 497.5h1M769 497.5h1M772 497.5h1M775 497.5h1M778 497.5h1M781 497.5h1M784 497.5h1M787 497.5h1M790 497.5h1M793 497.5h1M796 497.5h1M799 497.5h1M802 497.5h1M805 497.5h1M808 497.5h1M811 497.5h1M814 497.5h1M817 497.5h1M820 497.5h1M823 497.5h1M826 497.5h1M829 497.5h1M832 497.5h1M835 497.5h1M838 497.5h1M841 497.5h1M844 497.5h1M847 497.5h1M850 497.5h1M853 497.5h1M856 497.5h1M859 497.5h1M862 497.5h1M865 497.5h1M868 497.5h1M871 497.5h1M874 497.5h1M878 497.5h1M881 497.5h1M884 497.5h1M887 497.5h1M890 497.5h1M893 497.5h1M896 497.5h1M899 497.5h1M902 497.5h1M905 497.5h1M908 497.5h1M911 497.5h1M914 497.5h1M917 497.5h1M920 497.5h1M923 497.5h1M926 497.5h1M929 497.5h1M932 497.5h1M935 497.5h1M938 497.5h1M941 497.5h1M944 497.5h1" stroke="#000" stroke-width="1"/>
</g>
<rect x="480" y="518" width="6" height="6" fill="#fff"/>
<rect x="480" y="518" width="1" height="1" fill="#2a2aa0"/>
<rect x="485" y="518" width="1" height="1" fill="#2a2aa0"/>
<rect x="480" y="523" width="1" height="1" fill="#2a2aa0"/>
<rect x="485" y="523" width="1" height="1" fill="#2a2aa0"/>
<rect x="487" y="520" width="1" height="1" fill="#000"/>
<rect x="486" y="521" width="1" height="1" fill="#000"/>
<rect x="487" y="521" width="1" height="1" fill="#ffee00"/>
<rect x="488" y="521" width="1" height="1" fill="#8890e0"/>
<rect x="486" y="522" width="1" height="1" fill="#000"/>
<rect x="487" y="522" width="2" height="1" fill="#ffee00"/>
<rect x="485" y="523" width="1" height="1" fill="#000"/>
<rect x="486" y="523" width="3" height="1" fill="#ffee00"/>
<rect x="489" y="523" width="1" height="1" fill="#8890e0"/>
<rect x="485" y="524" width="1" height="1" fill="#000"/>
<rect x="486" y="524" width="4" height="1" fill="#ffee00"/>
<rect x="484" y="525" width="1" height="1" fill="#000"/>
<rect x="485" y="525" width="5" height="1" fill="#ffee00"/>
<rect x="490" y="525" width="1" height="1" fill="#8890e0"/>
<rect x="484" y="526" width="1" height="1" fill="#000"/>
<rect x="485" y="526" width="6" height="1" fill="#ffee00"/>
<rect x="486" y="527" width="3" height="2" fill="#ffee00"/>
<rect x="823" y="525" width="6" height="5" fill="#fff"/>
<rect x="823" y="525" width="1" height="1" fill="#2a2aa0"/>
<rect x="828" y="525" width="1" height="1" fill="#2a2aa0"/>
<rect x="820" y="518" width="3" height="2" fill="#ffee00"/>
<rect x="818" y="520" width="1" height="1" fill="#8890e0"/>
<rect x="819" y="520" width="5" height="2" fill="#ffee00"/>
<rect x="824" y="520" width="1" height="2" fill="#000"/>
<rect x="819" y="522" width="1" height="1" fill="#8890e0"/>
<rect x="820" y="522" width="3" height="2" fill="#ffee00"/>
<rect x="823" y="522" width="1" height="2" fill="#000"/>
<rect x="820" y="524" width="1" height="1" fill="#8890e0"/>
<rect x="821" y="524" width="1" height="2" fill="#ffee00"/>
<rect x="822" y="524" width="1" height="2" fill="#000"/>
<rect x="821" y="526" width="1" height="1" fill="#000"/>
</g>
<g class="ce">
<rect x="0" y="529" width="1024" height="73" fill="#fff"/>
<rect x="1023" y="529" width="1" height="73" fill="#808080"/>
<rect x="1" y="530" width="1022" height="72" fill="#ccfaf6"/>
<rect x="87" y="530" width="1" height="72" fill="#fff"/>
<rect x="88" y="530" width="1" height="72" fill="#868686"/>
<rect x="204" y="530" width="1" height="72" fill="#fff"/>
<rect x="205" y="530" width="1" height="72" fill="#868686"/>
<rect x="322" y="530" width="1" height="72" fill="#fff"/>
<rect x="323" y="530" width="1" height="72" fill="#868686"/>
<rect x="440" y="530" width="1" height="72" fill="#fff"/>
<rect x="441" y="530" width="1" height="72" fill="#868686"/>
<rect x="558" y="530" width="1" height="72" fill="#fff"/>
<rect x="559" y="530" width="1" height="72" fill="#868686"/>
<rect x="676" y="530" width="1" height="72" fill="#fff"/>
<rect x="677" y="530" width="1" height="72" fill="#868686"/>
<rect x="794" y="530" width="1" height="72" fill="#fff"/>
<rect x="795" y="530" width="1" height="72" fill="#868686"/>
<rect x="912" y="530" width="1" height="72" fill="#fff"/>
<rect x="913" y="530" width="1" height="72" fill="#868686"/>
</g>
<text transform="translate(8.5 548.0) scale(0.902 1)" fill="#000" stroke="#000" class="b">Sensor</text>
<text transform="translate(8.5 564.0) scale(0.948 1)" fill="#000" stroke="#000" class="b">MinWert</text>
<text transform="translate(8.5 580.0) scale(0.957 1)" fill="#000" stroke="#000" class="b">MaxWert</text>
<text transform="translate(8.5 596.0) scale(0.92 1)" fill="#000" stroke="#000" class="b">Durchschnitt</text>
<text transform="translate(94.7 548.0) scale(0.961 1)" fill="#000" stroke="#000" class="b">Temp. A.</text>
<text transform="translate(198.7 548.0) scale(0.92 1)" fill="#000" stroke="#000" text-anchor="end" class="b">°C</text>
<text transform="translate(101.0 564.0) scale(0.9 1)" fill="#000" stroke="#000">23:55</text>
<text transform="translate(198.7 564.0) scale(0.9 1)" fill="#000" stroke="#000" text-anchor="end">14.4</text>
<text transform="translate(101.0 580.0) scale(0.9 1)" fill="#000" stroke="#000">14:05</text>
<text transform="translate(198.7 580.0) scale(0.9 1)" fill="#000" stroke="#000" text-anchor="end">23.7</text>
<text transform="translate(198.7 596.0) scale(0.9 1)" fill="#000" stroke="#000" text-anchor="end">18.29</text>
<text transform="translate(213.0 548.0) scale(0.966 1)" fill="#000" stroke="#000" class="b">Temp. I.</text>
<text transform="translate(316.5 548.0) scale(0.92 1)" fill="#000" stroke="#000" text-anchor="end" class="b">°C</text>
<text transform="translate(218.5 564.0) scale(0.9 1)" fill="#000" stroke="#000">07:15</text>
<text transform="translate(316.5 564.0) scale(0.9 1)" fill="#000" stroke="#000" text-anchor="end">22.3</text>
<text transform="translate(218.5 580.0) scale(0.9 1)" fill="#000" stroke="#000">13:55</text>
<text transform="translate(316.5 580.0) scale(0.9 1)" fill="#000" stroke="#000" text-anchor="end">22.8</text>
<text transform="translate(316.5 596.0) scale(0.9 1)" fill="#000" stroke="#000" text-anchor="end">22.60</text>
<text transform="translate(684.5 548.0) scale(0.92 1)" fill="#000" stroke="#000" class="b">Luftdruck</text>
<text transform="translate(788.5 548.0) scale(0.948 1)" fill="#000" stroke="#000" text-anchor="end" class="b">hPa</text>
<text transform="translate(690.5 564.0) scale(0.9 1)" fill="#000" stroke="#000">00:25</text>
<text transform="translate(788.5 564.0) scale(0.9 1)" fill="#000" stroke="#000" text-anchor="end">1010.9</text>
<text transform="translate(690.5 580.0) scale(0.9 1)" fill="#000" stroke="#000">23:20</text>
<text transform="translate(788.5 580.0) scale(0.9 1)" fill="#000" stroke="#000" text-anchor="end">1017.8</text>
<text transform="translate(684.7 596.0) scale(0.955 1)" fill="#000" stroke="#000">^1.3hPa/h</text>
<text transform="translate(788.5 596.0) scale(0.9 1)" fill="#000" stroke="#000" text-anchor="end">1014.7</text>
<text transform="translate(802.3 548.0) scale(0.984 1)" fill="#000" stroke="#000" class="b">Regen</text>
<text transform="translate(905.5 548.0) scale(0.948 1)" fill="#000" stroke="#000" text-anchor="end" class="b">l/m²</text>
<text transform="translate(808.8 580.0) scale(0.9 1)" fill="#000" stroke="#000">01:40</text>
<text transform="translate(906.0 580.0) scale(0.9 1)" fill="#000" stroke="#000" text-anchor="end">0.2</text>
<text transform="translate(802.5 596.0) scale(0.845 1)" fill="#000" stroke="#000">Gesamt:</text>
<text transform="translate(906.0 596.0) scale(0.9 1)" fill="#000" stroke="#000" text-anchor="end">1.6</text>
<text transform="translate(920.3 548.0) scale(0.938 1)" fill="#000" stroke="#000" class="b">Wind</text>
<text transform="translate(1021.0 548.0) scale(0.98 1)" fill="#000" stroke="#000" text-anchor="end" class="b">km/h</text>
<text transform="translate(920.8 564.0) scale(0.85 1)" fill="#000" stroke="#000">Ø 10 min.</text>
<text transform="translate(1022.5 564.0) scale(0.9 1)" fill="#000" stroke="#000" text-anchor="end">0.0</text>
<text transform="translate(926.5 580.0) scale(0.9 1)" fill="#000" stroke="#000">05:15</text>
<text transform="translate(1022.5 580.0) scale(0.9 1)" fill="#000" stroke="#000" text-anchor="end">N-NW 17.5</text>
<text transform="translate(1022.5 596.0) scale(0.9 1)" fill="#000" stroke="#000" text-anchor="end">0.6</text>
</svg></body></html>
